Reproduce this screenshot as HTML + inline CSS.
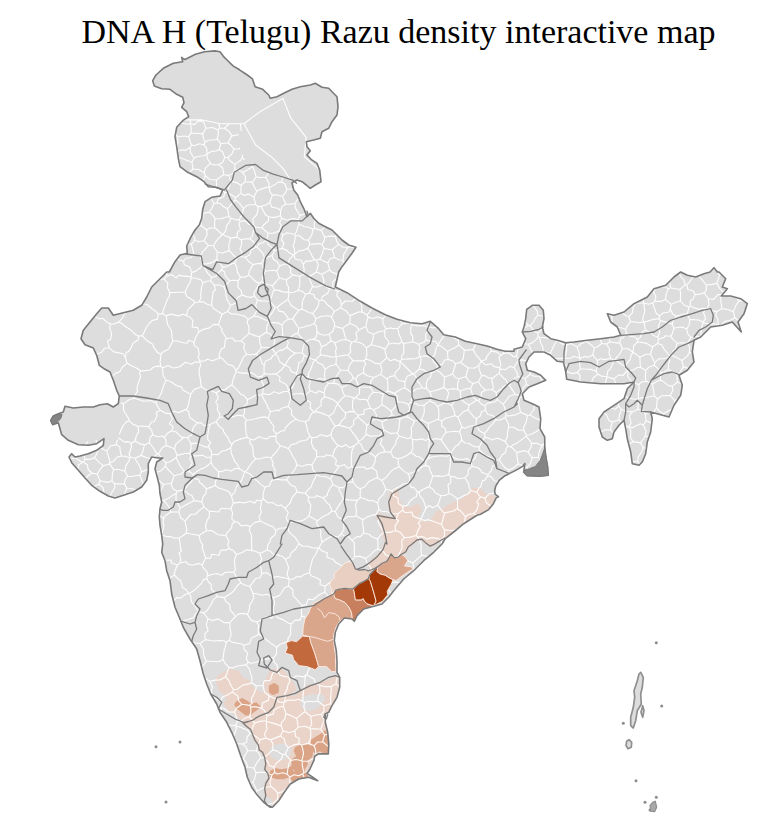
<!DOCTYPE html>
<html><head><meta charset="utf-8"><title>DNA H (Telugu) Razu density interactive map</title>
<style>
html,body{margin:0;padding:0;background:#fff;}
body{width:771px;height:816px;overflow:hidden;position:relative;font-family:"Liberation Serif",serif;}
#title{position:absolute;left:0;top:12px;width:797px;text-align:center;font-size:34px;line-height:40px;color:#000;white-space:nowrap;}
svg{position:absolute;left:0;top:0;}
</style></head><body>
<div id="title">DNA H (Telugu) Razu density interactive map</div>
<svg width="771" height="816" viewBox="0 0 771 816">
<path d="M181.7,57.3 L182.7,61.7 L173.3,63.3 L163.3,68.3 L156.0,75.0 L152.7,80.7 L154.3,86.0 L161.7,88.7 L170.0,89.3 L176.7,94.3 L182.7,97.3 L184.0,102.7 L181.7,107.3 L186.7,111.7 L188.7,116.7 L182.7,120.7 L176.7,127.3 L175.0,136.7 L176.7,146.7 L178.3,158.3 L180.0,166.7 L186.7,171.7 L196.7,176.7 L204.0,181.7 L208.3,186.7 L216.7,187.3 L222.7,190.0 L220.0,196.0 L211.7,197.3 L205.0,201.7 L202.7,209.3 L201.7,218.3 L199.3,225.0 L195.0,230.0 L190.7,237.3 L186.7,246.0 L187.3,253.3 L180.0,255.0 L175.0,261.7 L169.3,272.0 L166.7,272.0 L160.0,278.7 L151.7,287.0 L146.7,297.0 L141.7,305.3 L133.3,310.3 L123.3,312.7 L113.3,315.3 L108.3,308.0 L101.7,308.0 L96.7,313.7 L90.0,322.0 L83.3,330.3 L81.0,338.7 L85.0,344.7 L93.3,348.0 L96.7,355.3 L99.3,365.3 L105.0,369.3 L110.0,372.0 L113.3,380.3 L116.7,390.3 L119.3,396.0 L118.3,403.7 L113.3,407.0 L107.3,403.7 L100.0,404.7 L93.3,407.0 L83.3,407.0 L73.3,408.0 L65.0,406.3 L63.3,412.0 L58.3,413.7 L53.3,416.0 L50.7,420.3 L52.7,424.7 L58.3,422.7 L60.0,428.7 L61.7,434.7 L68.3,440.3 L78.3,444.7 L88.3,445.3 L96.7,443.7 L104.0,438.7 L103.3,445.3 L96.7,450.3 L88.3,453.7 L80.0,456.0 L75.0,457.0 L71.7,453.7 L69.0,457.0 L71.7,462.7 L78.3,470.3 L85.0,478.0 L91.7,485.3 L100.0,491.3 L108.3,496.0 L115.0,498.0 L125.0,494.7 L133.3,492.0 L141.7,487.0 L146.7,480.3 L148.3,472.0 L148.3,463.7 L151.7,457.0 L158.3,458.0 L162.7,458.0 L156.7,462.0 L155.0,468.7 L156.7,475.3 L159.3,485.3 L160.0,493.7 L161.7,502.0 L160.0,508.7 L159.3,517.0 L160.0,525.3 L161.7,535.3 L162.7,544.0 L162.7,544.0 L161.7,552.3 L165.0,560.7 L166.7,570.7 L170.0,580.7 L171.7,594.0 L175.0,607.3 L180.0,619.0 L183.3,627.3 L190.0,639.0 L196.7,649.0 L200.0,660.7 L203.3,674.0 L206.7,684.0 L210.7,694.0 L216.7,704.0 L220.0,712.3 L226.7,722.3 L231.7,732.3 L236.7,744.0 L240.7,755.7 L245.0,767.3 L247.3,777.3 L251.7,787.3 L257.0,794.7 L257.0,794.7 L263.7,802.3 L270.3,807.3 L273.0,806.7 L278.7,800.7 L285.3,790.7 L290.3,784.0 L298.7,779.0 L308.7,777.3 L317.7,780.7 L312.0,776.7 L307.0,773.3 L309.5,770.0 L314.0,760.2 L314.6,756.3 L318.5,753.9 L328.3,753.9 L328.8,744.0 L327.7,732.3 L325.3,722.3 L325.3,714.0 L328.7,712.3 L332.0,705.7 L337.0,697.3 L339.7,687.3 L339.7,677.3 L337.0,672.3 L337.0,660.7 L336.3,650.7 L334.3,640.7 L335.3,632.3 L338.7,624.0 L344.3,618.0 L352.0,619.0 L354.3,621.3 L357.0,615.7 L363.7,609.0 L372.0,606.7 L382.0,604.0 L388.7,597.3 L393.7,590.7 L403.7,579.0 L413.7,570.7 L423.7,560.7 L433.7,552.3 L442.0,544.0 L442.0,544.0 L445.3,538.7 L453.7,532.0 L463.7,523.7 L477.0,515.3 L480.5,514.2 L488.7,509.6 L493.4,503.7 L496.2,497.9 L498.5,496.7 L495.3,494.4 L494.6,490.9 L495.7,486.2 L499.2,480.4 L505.1,475.7 L509.7,473.4 L516.7,469.9 L522.6,466.4 L524.9,463.6 L523.7,472.2 L527.2,475.7 L540.1,476.2 L548.3,475.3 L547.6,466.4 L545.9,457 L544.8,447.7 L544.7,437.0 L540.0,428.7 L540.7,418.7 L539.0,407.0 L532.3,403.7 L524.0,400.3 L522.3,393.7 L529.0,387.0 L537.3,383.7 L545.7,380.3 L540.7,375.3 L534.0,372.0 L527.3,370.3 L525.7,363.7 L529.0,357.0 L534.0,352.0 L544.0,352.0 L550.7,355.3 L557.3,361.3 L563.3,362.0 L564.7,367.0 L565.7,372.0 L566.7,379.3 L580.7,382.0 L600.7,383.7 L624.0,383.7 L634.0,382.0 L627.3,388.7 L624.0,398.7 L614.0,405.3 L604.0,412.0 L599.0,418.7 L599.0,427.0 L602.3,437.0 L607.3,440.3 L612.3,438.7 L614.0,432.0 L619.0,425.3 L624.0,420.3 L625.7,428.7 L627.3,438.7 L630.7,452.0 L632.3,463.7 L639.0,465.3 L642.3,462.0 L645.7,453.7 L647.3,442.0 L650.7,432.0 L652.3,418.7 L650.7,412.0 L660.7,414.7 L669.0,417.0 L674.0,405.3 L680.7,395.3 L682.3,385.3 L679.0,375.3 L687.3,370.3 L694.0,362.0 L692.3,352.0 L694.0,340.3 L700.7,337.0 L710.7,327.0 L722.3,325.3 L732.3,322.0 L741.3,332.0 L738.0,322.0 L744.0,313.7 L747.3,303.7 L740.7,298.7 L730.7,296.0 L721.3,296.0 L727.3,288.7 L722.3,287.0 L725.7,278.7 L719.0,272.0 L717.3,272.0 L714.0,267.7 L710.0,272.0 L704.0,273.7 L695.7,277.0 L687.3,275.3 L680.7,272.0 L674.0,277.0 L665.7,285.3 L654.0,288.7 L647.3,297.0 L634.0,303.7 L624.0,312.0 L614.0,315.3 L607.3,313.7 L610.7,322.0 L617.3,327.0 L620.7,335.3 L614.0,337.0 L600.7,338.7 L587.3,340.3 L574.0,342.0 L565.7,342.7 L557.3,340.3 L550.7,338.7 L544.0,333.7 L542.3,327.0 L544.0,318.7 L543.3,310.3 L539.0,305.3 L532.3,305.3 L526.7,309.3 L525.7,318.7 L524.0,327.0 L522.3,332.0 L525.7,338.7 L522.3,347.0 L514.0,349.3 L514.0,351.3 L505.3,351.3 L497.0,349.3 L487.0,346.0 L477.0,343.7 L465.3,341.3 L455.3,337.0 L443.7,334.7 L438.7,328.7 L430.3,321.3 L422.0,323.7 L410.3,322.7 L397.0,319.3 L385.3,314.7 L372.0,308.0 L360.3,301.3 L347.0,292.7 L335.3,287.0 L338.7,272.0 L338.7,272.0 L342.0,266.7 L347.0,260.0 L352.0,253.3 L356.0,247.3 L348.7,245.0 L342.0,240.0 L337.0,235.0 L332.0,230.0 L325.3,226.7 L318.7,223.3 L313.7,218.3 L310.3,213.3 L307.0,216.7 L303.7,208.3 L300.3,201.7 L297.7,195.0 L293.7,190.0 L292.0,182.7 L297.0,180.0 L302.0,181.7 L306.3,185.0 L310.3,188.3 L315.3,185.0 L321.0,181.7 L319.7,170.0 L317.0,163.3 L311.0,159.3 L307.0,155.0 L310.3,150.7 L307.0,146.7 L306.3,141.7 L313.7,140.0 L320.3,138.3 L322.0,131.7 L328.7,128.3 L332.0,121.7 L337.0,115.0 L338.0,106.7 L337.0,96.7 L332.0,91.7 L328.7,88.3 L322.0,87.3 L315.3,83.3 L310.3,85.0 L300.3,86.7 L292.0,89.3 L283.7,93.3 L277.0,96.7 L270.3,98.3 L268.7,95.0 L262.7,89.3 L255.1,86.7 L252.5,78.9 L247.3,75 L239.5,69.8 L233,65.9 L227.8,60.8 L223.9,56.9 L220,51.7 L214.9,50.9 L204.5,51.7 L195.4,54.3 L185,59.5 L182.4,58.2Z" fill="#dddddd" stroke="none"/>
<path d="M389.6,492.3 L389.5,492.4 L389.4,492.4 L389.3,492.5 L389.2,492.6 L389.2,492.7 L389.1,492.8 L389.1,492.9 L389.0,493.0 L389.0,493.1 L387.8,502.5 L387.8,502.7 L387.8,502.8 L387.8,502.9 L389.0,511.1 L389.0,511.2 L389.1,511.3 L389.1,511.4 L389.2,511.5 L389.2,511.6 L389.3,511.7 L389.4,511.8 L393.5,515.8 L392.9,517.5 L387.1,515.6 L387.0,515.5 L378.8,513.2 L378.7,513.2 L378.6,513.2 L378.5,513.2 L378.4,513.2 L378.2,513.2 L378.1,513.3 L378.0,513.3 L377.9,513.3 L377.8,513.4 L377.7,513.5 L377.6,513.6 L377.6,513.6 L377.5,513.7 L375.2,517.2 L375.1,517.3 L375.1,517.5 L375.0,517.6 L375.0,517.7 L375.0,517.8 L375.0,517.9 L375.0,518.0 L375.0,518.2 L375.1,518.3 L375.1,518.4 L375.2,518.5 L375.2,518.6 L375.3,518.7 L375.4,518.8 L375.5,518.9 L375.6,518.9 L375.7,519.0 L379.7,520.9 L379.7,528.4 L379.7,528.5 L379.7,528.6 L379.8,528.8 L379.8,528.9 L383.2,536.9 L384.3,542.3 L382.1,548.8 L376.5,555.5 L369.6,561.3 L369.5,561.4 L369.5,561.5 L369.4,561.6 L369.3,561.7 L369.3,561.8 L369.2,561.9 L368.0,566.6 L368.0,566.7 L368.0,566.8 L368.0,566.9 L368.0,567.1 L368.0,567.2 L368.1,567.3 L368.1,567.4 L368.2,567.5 L368.2,567.6 L368.3,567.7 L368.4,567.8 L368.4,567.8 L368.5,567.9 L372.0,570.2 L372.2,570.3 L372.3,570.3 L377.0,572.0 L377.1,572.1 L377.2,572.1 L377.3,572.1 L377.4,572.1 L377.6,572.1 L377.7,572.1 L377.8,572.0 L377.9,572.0 L378.0,571.9 L378.1,571.9 L382.6,568.6 L388.4,565.7 L388.5,565.6 L388.6,565.5 L388.7,565.5 L388.8,565.4 L388.9,565.3 L388.9,565.2 L389.0,565.1 L389.0,565.0 L390.6,560.5 L393.4,557.4 L396.6,559.2 L396.7,559.3 L396.8,559.3 L396.9,559.4 L397.0,559.4 L397.2,559.4 L397.3,559.4 L397.4,559.4 L397.5,559.4 L397.6,559.3 L397.7,559.3 L397.8,559.2 L397.9,559.2 L398.0,559.1 L401.9,555.5 L406.4,552.7 L406.5,552.7 L406.6,552.6 L406.7,552.5 L406.8,552.4 L406.8,552.3 L406.9,552.2 L409.1,547.8 L413.1,544.8 L413.2,544.7 L417.5,541.1 L421.3,540.4 L424.4,543.3 L424.5,543.3 L429.2,547.0 L429.3,547.1 L429.3,547.2 L429.5,547.2 L429.6,547.3 L429.7,547.3 L429.8,547.3 L429.9,547.3 L430.0,547.3 L430.1,547.3 L430.2,547.3 L430.3,547.2 L433.8,545.8 L433.9,545.8 L434.0,545.7 L438.7,542.9 L443.3,540.3 L443.4,540.3 L444.9,539.3 L445.3,538.7 L453.7,532.0 L463.7,523.7 L477.0,515.3 L480.5,514.2 L488.7,509.6 L493.4,503.7 L496.2,497.9 L496.3,497.8 L493.7,495.3 L493.7,495.2 L493.6,495.1 L493.5,495.0 L493.4,495.0 L493.3,495.0 L493.2,494.9 L493.1,494.9 L486.4,494.1 L480.9,488.9 L480.8,488.8 L480.7,488.8 L480.6,488.7 L480.5,488.7 L480.4,488.6 L480.3,488.6 L473.7,487.5 L473.6,487.5 L473.5,487.5 L473.4,487.5 L473.2,487.5 L473.1,487.6 L473.0,487.6 L472.9,487.6 L472.8,487.7 L472.7,487.8 L472.7,487.8 L472.6,487.9 L468.7,492.5 L463.0,498.2 L456.2,501.1 L449.3,503.9 L449.2,503.9 L449.1,504.0 L449.0,504.0 L443.3,508.2 L436.4,511.4 L436.3,511.5 L436.2,511.5 L436.1,511.6 L436.0,511.7 L436.0,511.8 L435.9,511.8 L432.4,517.2 L428.3,521.9 L421.2,520.3 L418.4,516.6 L421.6,510.8 L421.6,510.7 L421.6,510.5 L421.7,510.4 L421.7,510.3 L421.7,510.2 L421.7,510.1 L421.7,509.9 L421.6,509.8 L421.6,509.7 L419.3,504.5 L419.2,504.4 L419.2,504.3 L419.1,504.2 L419.0,504.1 L418.9,504.1 L418.8,504.0 L418.7,503.9 L418.6,503.9 L418.5,503.8 L418.4,503.8 L418.3,503.8 L418.2,503.8 L418.1,503.8 L418.0,503.8 L417.8,503.9 L417.7,503.9 L409.8,507.3 L402.7,506.3 L399.6,500.1 L398.4,489.7 L398.4,489.6 L398.3,489.4 L398.3,489.3 L398.3,489.2 L398.2,489.1 L398.1,489.0 L398.0,489.0 L398.0,488.9 L397.9,488.8 L397.8,488.7 L397.7,488.7 L397.6,488.7 L397.4,488.6 L397.3,488.6 L397.2,488.6 L397.1,488.6 L397.0,488.6 L396.9,488.6 L396.8,488.7 L396.7,488.7 L389.7,492.2Z" fill="#ead4c9" fill-rule="evenodd" stroke="none"/>
<path d="M334.3,676.6 L334.2,676.6 L328.9,679.4 L323.7,680.9 L317.3,681.9 L317.2,681.9 L317.1,682.0 L317.0,682.0 L316.9,682.1 L316.8,682.1 L312.9,685.1 L308.0,684.5 L307.8,684.5 L307.7,684.5 L307.6,684.5 L307.5,684.5 L307.4,684.6 L307.2,684.6 L307.1,684.7 L307.0,684.8 L302.8,688.2 L298.9,690.8 L298.8,690.9 L298.7,691.0 L298.6,691.1 L295.3,695.4 L292.2,695.9 L289.3,692.7 L289.2,692.6 L289.1,692.6 L289.1,692.5 L289.0,692.4 L285.8,690.7 L285.7,690.7 L285.5,690.7 L285.4,690.6 L285.3,690.6 L285.2,690.6 L280.9,690.6 L280.8,690.6 L280.7,690.6 L280.6,690.6 L280.5,690.7 L280.4,690.7 L280.3,690.8 L277.0,692.9 L276.9,693.0 L276.8,693.0 L276.7,693.1 L276.6,693.2 L276.6,693.3 L276.5,693.4 L274.4,697.7 L272.2,702.0 L272.2,702.1 L272.1,702.2 L272.1,702.3 L272.1,702.4 L272.1,702.5 L272.1,702.6 L272.1,702.8 L272.2,702.9 L273.3,706.2 L273.3,706.3 L273.4,706.4 L273.4,706.5 L273.5,706.6 L273.6,706.6 L275.7,708.8 L273.8,710.2 L268.6,713.3 L262.3,714.3 L262.2,714.3 L262.1,714.4 L256.8,716.5 L256.7,716.5 L256.6,716.6 L252.3,719.1 L248.2,720.3 L242.8,721.8 L242.7,721.9 L242.6,721.9 L242.5,722.0 L242.4,722.1 L242.3,722.1 L242.2,722.2 L242.1,722.3 L242.1,722.4 L242.0,722.5 L242.0,722.6 L241.9,722.8 L241.9,722.9 L241.9,723.0 L241.9,723.1 L241.9,723.2 L241.9,723.3 L242.0,723.5 L242.0,723.6 L242.1,723.7 L242.2,723.8 L242.3,723.8 L245.6,727.1 L245.7,727.3 L249.7,730.3 L251.7,735.3 L251.7,735.4 L253.9,740.8 L253.9,740.8 L254.0,740.9 L254.0,741.0 L257.1,745.1 L258.1,750.2 L258.2,750.4 L258.2,750.5 L258.2,750.6 L258.3,750.7 L258.4,750.8 L258.4,750.8 L258.5,750.9 L258.6,751.0 L261.5,753.0 L263.5,757.8 L264.6,764.0 L263.5,769.2 L263.5,769.3 L263.5,769.4 L263.5,769.5 L263.5,769.6 L263.5,769.7 L263.6,769.8 L263.6,769.9 L263.7,770.0 L263.7,770.1 L266.8,774.2 L267.7,777.8 L264.8,782.8 L264.7,782.9 L264.7,783.0 L264.6,783.2 L263.5,788.6 L263.5,788.7 L263.5,788.8 L263.5,788.9 L263.5,789.0 L264.6,795.5 L264.6,795.6 L264.7,795.7 L264.7,795.8 L264.8,795.9 L264.8,796.0 L264.9,796.1 L265.0,796.2 L265.1,796.3 L265.2,796.3 L265.3,796.4 L265.4,796.4 L268.5,797.5 L272.2,799.3 L273.2,804.0 L273.2,806.1 L273.2,806.2 L273.2,806.3 L273.2,806.4 L278.7,800.7 L285.3,790.7 L290.3,784.0 L298.7,779.0 L308.7,777.3 L310.1,777.8 L310.1,777.8 L310.0,777.6 L310.0,777.5 L310.0,777.4 L309.9,777.3 L309.8,777.2 L309.7,777.2 L308.4,775.8 L309.1,774.8 L307.0,773.3 L309.5,770.0 L314.0,760.2 L314.6,756.3 L318.5,753.9 L328.3,753.9 L328.8,744.0 L327.7,732.3 L325.3,722.3 L325.3,714.0 L328.7,712.3 L332.0,705.7 L337.0,697.3 L339.7,687.3 L339.7,677.3 L338.3,674.7Z" fill="#ead4c9" fill-rule="evenodd" stroke="none"/>
<path d="M215.4,677.9 L215.3,678.0 L215.2,678.1 L215.1,678.2 L215.1,678.3 L215.1,678.5 L215.0,678.6 L215.0,678.7 L215.0,678.8 L215.0,678.9 L215.0,679.1 L215.1,679.2 L217.2,685.7 L217.2,685.8 L219.4,691.2 L219.4,691.3 L219.5,691.3 L219.6,691.4 L219.6,691.5 L219.7,691.6 L219.8,691.7 L223.9,694.7 L226.6,699.2 L223.8,702.9 L223.8,703.0 L223.7,703.1 L223.7,703.2 L223.6,703.3 L223.6,703.4 L223.6,703.5 L223.6,703.7 L223.6,703.8 L223.6,703.9 L223.7,704.0 L223.7,704.1 L223.8,704.2 L227.0,709.6 L227.0,709.7 L227.1,709.8 L227.2,709.9 L227.3,709.9 L227.3,710.0 L233.8,714.3 L239.0,718.4 L242.1,723.6 L242.1,723.7 L242.2,723.8 L242.3,723.9 L242.4,724.0 L242.5,724.0 L242.6,724.1 L242.7,724.1 L242.8,724.2 L242.9,724.2 L243.1,724.2 L243.2,724.2 L243.3,724.2 L243.4,724.2 L248.8,722.7 L248.8,722.6 L253.1,721.3 L253.3,721.3 L253.4,721.2 L257.7,718.7 L262.8,716.7 L269.2,715.6 L269.3,715.6 L269.4,715.5 L269.5,715.5 L269.6,715.4 L275.0,712.2 L275.1,712.2 L275.2,712.1 L275.3,712.0 L275.3,711.9 L275.4,711.8 L275.5,711.7 L275.5,711.6 L275.6,711.5 L275.6,711.4 L275.6,711.3 L275.6,711.2 L275.6,706.9 L275.6,706.8 L275.6,706.7 L275.5,706.5 L275.5,706.4 L275.5,706.3 L275.4,706.2 L275.3,706.1 L275.2,706.0 L275.1,706.0 L275.1,705.9 L274.9,705.8 L270.7,703.6 L265.7,700.7 L263.6,694.6 L263.6,694.5 L263.5,694.4 L263.5,694.3 L263.4,694.2 L263.3,694.1 L263.3,694.1 L263.2,694.0 L256.8,689.7 L251.7,685.7 L249.6,680.5 L249.6,680.4 L249.5,680.3 L249.4,680.3 L249.4,680.2 L249.3,680.1 L249.2,680.0 L249.1,680.0 L249.0,679.9 L248.9,679.9 L242.9,677.8 L239.9,671.9 L239.8,671.8 L239.7,671.7 L239.7,671.6 L239.6,671.5 L239.5,671.4 L239.4,671.4 L239.3,671.3 L239.2,671.3 L239.1,671.2 L230.5,669.0 L230.4,669.0 L230.3,669.0 L230.1,669.0 L230.0,669.0 L229.9,669.0 L229.8,669.1 L229.7,669.1 L221.1,673.4 L221.0,673.5 L220.9,673.6 L215.5,677.9Z" fill="#ead4c9" fill-rule="evenodd" stroke="none"/>
<path d="M269.4,671.4 L269.3,671.5 L269.2,671.6 L269.1,671.7 L269.0,671.8 L269.0,671.9 L266.8,677.2 L263.7,682.5 L263.6,682.6 L263.6,682.7 L263.5,682.8 L263.5,683.0 L263.5,683.1 L263.5,683.2 L263.5,683.3 L263.5,683.4 L263.6,683.6 L265.5,688.3 L262.6,692.1 L262.6,692.2 L262.5,692.3 L262.5,692.4 L262.4,692.5 L262.4,692.6 L262.4,692.7 L262.4,692.8 L262.4,692.9 L262.4,693.0 L262.5,693.1 L262.5,693.3 L264.7,698.7 L264.7,698.7 L264.8,698.8 L264.8,698.9 L268.0,703.2 L268.1,703.3 L268.2,703.4 L268.3,703.5 L268.4,703.5 L268.5,703.6 L268.6,703.6 L268.8,703.7 L268.9,703.7 L269.0,703.7 L273.3,703.7 L273.4,703.7 L273.5,703.7 L273.7,703.6 L273.8,703.6 L273.9,703.6 L274.0,703.5 L274.1,703.4 L274.2,703.3 L274.2,703.2 L274.3,703.1 L274.4,703.0 L274.4,702.9 L274.5,702.8 L274.5,702.7 L275.5,697.1 L279.0,696.2 L279.1,696.1 L279.2,696.1 L279.3,696.0 L279.4,695.9 L279.5,695.9 L282.5,693.0 L286.2,693.0 L290.3,694.0 L290.4,694.0 L290.6,694.0 L290.7,694.0 L290.8,694.0 L290.9,694.0 L291.0,693.9 L291.1,693.9 L291.2,693.8 L291.3,693.8 L295.6,690.6 L295.7,690.5 L295.8,690.4 L295.9,690.3 L295.9,690.2 L296.0,690.1 L296.0,690.0 L296.1,689.9 L296.1,689.8 L296.1,689.7 L296.1,689.6 L296.1,689.4 L296.1,689.3 L296.0,689.2 L293.8,682.7 L293.8,682.6 L293.7,682.5 L293.7,682.4 L293.6,682.3 L293.5,682.3 L290.5,679.2 L287.3,673.9 L287.3,673.8 L287.2,673.7 L287.1,673.7 L282.8,669.4 L282.8,669.3 L282.7,669.2 L282.6,669.1 L282.4,669.1 L282.3,669.0 L282.2,669.0 L275.7,667.9 L275.6,667.9 L275.5,667.9 L275.3,667.9 L275.2,667.9 L275.1,668.0 L275.0,668.0 L274.9,668.1 L269.5,671.4Z" fill="#ead4c9" fill-rule="evenodd" stroke="none"/>
<path d="M300.3,704.7 L303.5,710.1 L310.0,711.2 L316.5,709.0 L320.8,704.7 L325.1,700.4 L324.0,695.0 L316.5,693.9 L307.8,695.0 L301.4,697.2Z" fill="#dddddd" fill-rule="evenodd" stroke="none"/>
<path d="M269.0,753.2 L272.3,758.6 L278.7,760.8 L285.2,759.7 L289.5,756.5 L291.7,750.0 L288.4,745.7 L283.0,743.5 L275.5,744.6 L270.1,747.8Z" fill="#dddddd" fill-rule="evenodd" stroke="none"/>
<path d="M295.5,746.7 L295.4,746.8 L295.3,746.9 L295.2,746.9 L295.1,747.0 L295.0,747.1 L295.0,747.2 L294.9,747.3 L294.9,747.4 L293.8,750.7 L293.7,750.8 L293.7,751.0 L293.7,751.1 L293.7,751.2 L293.7,751.3 L293.7,751.4 L293.8,751.5 L293.8,751.6 L296.0,755.9 L296.1,756.0 L296.1,756.1 L299.3,760.4 L299.4,760.5 L299.5,760.6 L299.6,760.7 L299.7,760.7 L299.8,760.8 L299.9,760.8 L300.0,760.9 L300.1,760.9 L306.6,762.0 L306.7,762.0 L306.8,762.0 L306.9,762.0 L307.1,762.0 L307.2,761.9 L307.3,761.9 L307.4,761.9 L307.5,761.8 L307.6,761.7 L307.6,761.6 L311.9,757.3 L312.0,757.3 L312.1,757.2 L312.2,757.1 L312.2,756.9 L312.3,756.8 L312.3,756.7 L313.4,750.2 L313.4,750.1 L313.4,750.0 L313.4,749.8 L313.4,749.7 L313.3,749.6 L313.3,749.5 L313.2,749.4 L313.2,749.3 L309.9,745.0 L309.8,744.9 L309.7,744.8 L309.6,744.7 L309.5,744.7 L309.4,744.6 L309.3,744.6 L309.1,744.5 L309.0,744.5 L308.9,744.5 L301.4,744.5 L301.3,744.5 L301.2,744.5 L301.1,744.5 L301.0,744.6 L295.6,746.7Z" fill="#dba486" fill-rule="evenodd" stroke="none"/>
<path d="M311.5,739.3 L311.4,739.4 L311.3,739.5 L311.2,739.6 L311.2,739.7 L311.1,739.8 L311.1,739.9 L311.0,740.1 L311.0,740.2 L311.0,740.3 L311.0,747.8 L311.0,747.9 L311.0,748.0 L311.1,748.2 L311.1,748.3 L311.2,748.4 L311.2,748.5 L314.4,752.9 L314.5,753.0 L314.6,753.1 L314.7,753.2 L314.8,753.2 L314.9,753.3 L315.0,753.3 L315.1,753.4 L315.2,753.4 L315.4,753.4 L315.5,753.4 L315.6,753.4 L315.7,753.4 L315.8,753.3 L315.9,753.3 L319.7,751.3 L323.5,753.3 L323.6,753.3 L323.7,753.4 L323.8,753.4 L326.4,753.9 L328.3,753.9 L328.8,744.0 L328.0,735.7 L326.2,731.2 L326.2,731.1 L326.1,731.0 L326.0,731.0 L326.0,730.9 L325.9,730.8 L325.8,730.7 L325.7,730.7 L325.6,730.6 L325.5,730.6 L325.4,730.5 L325.3,730.5 L325.1,730.5 L325.0,730.5 L324.9,730.5 L324.8,730.5 L324.7,730.6 L324.6,730.6 L324.5,730.7 L324.4,730.7 L320.1,733.9 L316.9,736.1 L311.6,739.3Z" fill="#dba486" fill-rule="evenodd" stroke="none"/>
<path d="M292.0,758.7 L291.9,758.8 L291.8,758.9 L291.8,759.0 L291.7,759.1 L291.6,759.2 L291.6,759.3 L291.5,759.4 L291.5,759.5 L291.5,759.6 L291.5,759.7 L291.5,766.2 L291.5,766.3 L291.5,766.4 L291.5,766.5 L291.6,766.6 L291.6,766.7 L291.7,766.8 L291.7,766.9 L295.0,771.2 L295.1,771.3 L295.2,771.4 L295.3,771.5 L295.4,771.5 L295.5,771.6 L295.6,771.6 L295.7,771.7 L300.0,772.8 L300.1,772.8 L300.2,772.8 L300.3,772.8 L300.5,772.8 L300.6,772.8 L300.7,772.7 L300.8,772.7 L300.9,772.6 L301.0,772.6 L304.2,770.4 L304.3,770.3 L304.4,770.2 L304.5,770.1 L304.5,770.0 L307.8,764.6 L307.9,764.5 L307.9,764.4 L308.0,764.3 L308.0,764.2 L308.0,764.1 L308.0,764.0 L308.0,763.8 L308.0,763.7 L307.9,763.6 L307.9,763.5 L307.8,763.4 L307.8,763.3 L307.7,763.2 L307.6,763.1 L304.3,759.9 L304.2,759.9 L298.8,755.6 L298.7,755.5 L298.6,755.4 L298.5,755.4 L298.4,755.3 L298.3,755.3 L298.2,755.3 L298.1,755.3 L297.9,755.3 L297.8,755.3 L297.7,755.4 L297.6,755.4 L297.5,755.5 L292.1,758.7Z" fill="#dba486" fill-rule="evenodd" stroke="none"/>
<path d="M270.6,770.6 L270.5,770.7 L270.4,770.7 L270.3,770.8 L270.2,770.9 L270.2,771.0 L270.1,771.1 L270.1,771.2 L269.0,774.4 L268.9,774.5 L268.9,774.6 L268.9,774.8 L268.9,774.9 L268.9,775.0 L268.9,775.1 L269.0,775.2 L269.0,775.3 L269.1,775.4 L269.2,775.5 L269.2,775.6 L269.3,775.7 L269.4,775.8 L272.6,778.0 L272.7,778.0 L272.8,778.1 L272.9,778.1 L273.0,778.2 L277.3,779.2 L277.5,779.2 L277.6,779.2 L284.1,779.2 L284.2,779.2 L284.3,779.2 L284.4,779.2 L284.5,779.1 L289.9,777.0 L290.1,777.0 L290.2,776.9 L290.3,776.8 L290.4,776.7 L293.6,773.4 L293.6,773.3 L293.7,773.3 L293.8,773.2 L293.8,773.1 L293.8,772.9 L293.9,772.8 L293.9,772.7 L293.9,772.6 L293.9,772.5 L293.9,772.4 L292.9,767.1 L292.9,767.0 L292.8,766.9 L292.8,766.7 L292.7,766.6 L292.6,766.6 L292.6,766.5 L292.5,766.4 L292.4,766.3 L292.3,766.3 L292.2,766.2 L292.1,766.2 L292.0,766.1 L291.9,766.1 L291.7,766.1 L291.6,766.1 L291.5,766.1 L291.4,766.1 L291.3,766.2 L291.2,766.2 L287.0,768.3 L282.0,769.3 L275.7,768.2 L275.6,768.2 L275.5,768.2 L275.4,768.2 L275.3,768.2 L275.2,768.3 L275.1,768.3 L275.0,768.3 L270.7,770.5Z" fill="#dba486" fill-rule="evenodd" stroke="none"/>
<path d="M291.2,772.6 L291.1,772.7 L291.0,772.7 L290.9,772.8 L290.8,772.9 L290.7,773.0 L290.7,773.1 L290.6,773.2 L290.6,773.3 L290.5,773.4 L289.4,777.7 L289.4,777.8 L289.4,777.9 L289.4,778.1 L289.4,778.2 L289.4,778.3 L289.5,778.4 L289.5,778.5 L289.6,778.6 L289.7,778.7 L289.7,778.8 L292.9,782.1 L293.0,782.2 L293.1,782.3 L293.1,782.3 L298.7,779.0 L307.6,777.5 L308.0,776.2 L308.0,776.1 L308.0,776.0 L308.0,775.8 L308.0,775.7 L308.0,775.6 L307.9,775.5 L307.9,775.4 L307.8,775.3 L304.5,769.9 L304.5,769.8 L304.4,769.7 L304.3,769.6 L304.2,769.5 L304.1,769.5 L304.0,769.4 L303.9,769.4 L303.8,769.3 L303.7,769.3 L303.5,769.3 L303.4,769.3 L303.3,769.3 L296.9,770.4 L296.8,770.4 L296.7,770.5 L291.3,772.6Z" fill="#dba486" fill-rule="evenodd" stroke="none"/>
<path d="M236.0,701.5 L235.9,701.6 L235.8,701.7 L235.7,701.8 L235.7,701.9 L235.6,702.0 L234.5,704.2 L234.5,704.3 L234.4,704.4 L234.4,704.5 L234.4,704.6 L234.4,704.7 L234.4,704.8 L234.4,704.9 L234.5,705.0 L234.5,705.2 L234.5,705.3 L234.6,705.4 L236.7,708.6 L236.8,708.6 L236.8,708.7 L236.9,708.8 L237.0,708.9 L241.4,712.2 L241.4,712.2 L245.7,715.4 L245.8,715.4 L245.9,715.5 L246.0,715.5 L246.1,715.6 L246.2,715.6 L246.3,715.6 L246.5,715.6 L246.6,715.6 L246.7,715.6 L251.0,714.5 L251.1,714.4 L251.2,714.4 L251.3,714.3 L251.4,714.3 L255.7,711.1 L260.0,707.9 L260.1,707.8 L260.2,707.7 L260.3,707.6 L260.3,707.5 L260.4,707.4 L260.4,707.3 L260.5,707.2 L260.5,707.1 L260.5,706.9 L260.5,706.8 L260.5,706.7 L260.5,706.6 L260.4,706.5 L260.4,706.4 L260.3,706.3 L260.2,706.2 L260.2,706.1 L257.0,702.8 L256.9,702.7 L256.8,702.6 L256.7,702.5 L256.6,702.5 L256.5,702.5 L256.3,702.4 L256.2,702.4 L256.1,702.4 L256.0,702.4 L255.9,702.4 L251.0,703.4 L247.1,700.5 L247.0,700.5 L246.9,700.4 L242.6,698.2 L242.5,698.2 L242.4,698.1 L242.3,698.1 L242.2,698.1 L242.1,698.1 L241.9,698.1 L241.8,698.1 L241.7,698.2 L241.6,698.2 L241.5,698.3 L236.1,701.5Z" fill="#dba486" fill-rule="evenodd" stroke="none"/>
<path d="M269.4,685.4 L269.4,685.5 L269.3,685.5 L269.2,685.6 L269.1,685.7 L269.0,685.8 L269.0,685.9 L269.0,686.0 L268.9,686.2 L268.9,686.3 L268.9,686.4 L268.9,691.8 L268.9,691.9 L268.9,692.0 L269.0,692.2 L269.0,692.3 L269.0,692.4 L269.1,692.5 L269.2,692.6 L269.3,692.7 L269.3,692.7 L269.4,692.8 L272.6,694.9 L272.7,695.0 L272.8,695.0 L272.9,695.0 L273.1,695.1 L273.2,695.1 L273.3,695.1 L273.4,695.1 L273.5,695.1 L273.6,695.1 L273.7,695.0 L273.8,695.0 L278.1,692.9 L278.2,692.8 L278.3,692.7 L278.4,692.7 L278.5,692.6 L278.6,692.5 L278.6,692.4 L278.7,692.3 L278.7,692.2 L278.8,692.0 L278.8,691.9 L278.8,691.8 L278.8,686.4 L278.8,686.3 L278.8,686.2 L278.7,686.1 L278.7,685.9 L278.7,685.8 L278.6,685.7 L278.5,685.6 L278.5,685.6 L278.4,685.5 L278.3,685.4 L275.1,683.2 L275.0,683.1 L274.9,683.1 L274.8,683.1 L274.7,683.0 L274.5,683.0 L274.4,683.0 L274.3,683.0 L274.2,683.0 L274.1,683.0 L274.0,683.1 L273.9,683.1 L269.6,685.3Z" fill="#dba486" fill-rule="evenodd" stroke="none"/>
<path d="M267.4,804.6 L264.7,803.0 M257.1,790.9 L256.2,793.5 M257.1,790.9 L254.4,785.3 L252.9,782.3 M249.5,782.2 L252.9,782.3 M400.9,582.3 L396.4,582.4 L391.9,582.4 M391.1,594.1 L388.4,589.1 M336.2,630.0 L335.5,628.6 M354.4,621.0 L354.1,621.1 M338.8,623.9 L337.9,624.1 M125.3,312.2 L122.3,318.2 L119.0,321.9 M94.6,316.4 L99.9,318.9 L102.5,318.3 L107.3,322.4 L110.2,323.8 M119.0,321.9 L114.2,324.0 L110.2,323.8 M87.6,441.8 L85.1,445.1 M365.4,558.4 L370.8,554.6 L374.2,551.1 L377.8,549.0 M365.4,558.4 L367.3,563.6 L370.6,567.1 L370.9,570.0 M377.8,549.0 L383.2,551.3 L385.9,555.2 L390.0,556.1 M376.0,514.8 L378.9,509.0 M376.0,514.8 L378.5,517.2 L378.1,522.1 L380.0,525.9 L384.0,532.2 M378.9,509.0 L381.3,511.3 L387.1,511.8 L391.6,513.3 L393.2,513.9 L398.4,513.5 M398.4,513.5 L395.8,519.2 L398.7,520.4 L395.2,525.6 L395.4,530.5 M384.0,532.2 L390.0,532.4 L395.4,530.5 M245.2,768.3 L247.6,766.7 M247.6,766.7 L246.5,762.9 L243.3,758.6 M241.7,758.5 L243.3,758.6 M266.3,720.8 L266.8,721.5 M266.3,720.8 L259.9,721.4 L254.7,723.0 M254.7,723.0 L252.3,728.1 L251.2,733.4 M251.2,733.4 L255.4,736.3 L260.2,739.6 M266.8,721.5 L266.2,724.6 L267.1,728.7 L264.4,734.2 L266.0,738.1 M260.2,739.6 L266.0,738.1 M291.2,623.9 L290.6,627.8 L290.7,634.3 L288.1,638.4 L287.6,641.2 M291.2,623.9 L295.5,619.9 L300.0,620.1 L301.7,615.8 M301.7,615.8 L305.7,617.7 M287.6,641.2 L288.6,641.7 M337.0,661.0 L335.6,661.0 M328.2,596.2 L324.8,592.0 M325.1,586.2 L324.8,592.0 M325.1,586.2 L330.5,582.0 M353.5,588.3 L353.5,588.8 M301.7,615.8 L301.3,611.6 L302.3,605.4 M302.3,605.4 L306.2,604.9 L308.1,599.1 L313.0,599.8 L318.5,595.3 L320.7,594.1 L324.8,592.0 M348.6,561.8 L352.5,559.3 L354.9,556.8 M354.9,556.8 L359.7,556.1 L365.4,558.4 M342.2,565.8 L339.8,564.7 L335.1,561.9 L333.6,559.6 L326.8,557.2 L327.3,552.7 L322.7,551.3 L318.7,548.0 M318.7,548.0 L318.4,548.1 M325.1,586.2 L320.0,584.7 L320.4,580.1 L315.1,577.2 L311.2,575.7 L309.4,572.7 M318.4,548.1 L317.2,551.0 L315.7,554.5 L312.5,559.0 L311.4,563.6 L310.0,568.9 L309.4,572.7 M543.8,316.3 L537.9,315.2 M537.9,315.2 L537.1,310.7 L532.9,305.3 M529.8,415.0 L527.5,415.4 M529.8,415.0 L534.6,417.7 L540.0,420.2 M540.0,420.2 L540.5,422.2 M527.5,415.4 L526.2,422.0 L523.8,427.0 L523.7,430.1 M523.7,430.1 L526.3,435.3 M540.1,428.9 L535.6,431.9 L530.3,434.8 L526.3,435.3 M674.5,400.4 L677.8,399.6 M674.5,400.4 L674.8,404.1 M77.9,469.8 L78.6,465.0 L82.3,462.3 M82.3,462.3 L77.5,459.6 L75.7,458.1 L70.2,459.0 M70.2,459.0 L70.0,459.1 M69.8,456.0 L70.2,459.0 M109.3,347.7 L113.5,351.8 L115.4,352.1 L123.2,353.7 L125.4,357.5 M109.3,347.7 L104.6,348.2 L101.7,352.2 L96.3,354.4 M111.9,376.8 L112.0,376.8 M112.0,376.8 L115.1,373.6 L120.0,371.5 L121.9,367.8 L122.4,367.2 L127.0,363.1 M127.0,363.1 L125.4,357.5 M119.0,321.9 L121.7,323.4 L123.6,325.2 L130.6,329.8 L133.6,332.6 L136.4,335.3 L138.5,336.1 M110.2,323.8 L109.8,328.2 L111.6,334.2 L110.6,339.5 L107.5,340.9 L109.3,347.7 M138.5,336.1 L138.3,339.8 L132.9,343.3 L131.0,348.1 L128.3,351.9 L126.3,352.1 L125.4,357.5 M112.1,377.3 L112.0,376.8 M121.0,402.9 L123.6,403.6 M134.3,398.3 L129.1,399.8 L123.6,403.6 M134.3,398.3 L134.8,395.5 L137.7,390.9 L136.9,387.9 L138.4,382.9 L140.6,377.0 L139.5,372.7 L140.8,370.7 M140.8,370.7 L135.9,367.8 L131.9,366.0 L127.0,363.1 M142.1,335.6 L138.5,336.1 M142.1,335.6 L147.0,340.7 L148.7,341.7 L152.8,344.3 L153.5,346.8 L157.5,352.6 L161.1,354.1 M160.9,366.4 L160.0,361.3 L160.4,359.4 L161.1,354.1 M160.9,366.4 L157.2,366.1 L152.9,367.5 L150.4,370.0 L142.8,370.9 L140.8,370.7 M142.1,335.6 L144.2,332.4 L146.0,328.0 L149.2,323.5 L151.9,320.6 L157.5,319.1 L158.2,314.0 M142.7,303.7 L147.5,304.7 L151.5,308.3 L156.1,311.8 L158.2,314.0 M503.2,404.1 L504.9,408.3 L505.6,412.3 L506.1,416.0 M503.2,404.1 L506.2,400.5 L509.3,396.2 L515.1,394.2 M520.6,412.4 L516.2,414.6 L511.2,415.6 L506.1,416.0 M520.6,412.4 L519.1,405.8 L518.6,402.5 L519.9,397.1 M515.1,394.2 L518.3,395.2 M519.9,397.1 L518.3,395.2 M465.0,477.8 L458.5,478.7 L453.7,476.6 L450.7,476.7 M465.0,477.8 L468.6,483.6 L469.2,488.0 L471.0,490.5 M450.7,476.7 L450.8,482.4 L448.0,485.0 L448.7,490.7 L448.9,493.4 M471.0,490.5 L467.9,494.0 L462.3,496.4 L457.6,499.0 M448.9,493.4 L452.6,495.1 L457.6,499.0 M520.6,412.4 L527.5,415.4 M523.7,430.1 L518.5,430.3 L513.9,427.2 L508.6,427.2 M506.1,416.0 L505.1,417.6 M508.6,427.2 L508.4,423.7 L505.1,417.6 M427.7,458.9 L431.8,457.0 L438.1,456.0 L441.0,455.7 L447.1,456.2 L450.6,455.2 M427.7,458.9 L429.9,454.3 L428.8,450.7 L429.0,445.4 L429.4,439.7 M429.4,439.7 L436.5,438.6 L441.2,439.6 M441.2,439.6 L442.1,441.4 L446.8,447.8 L448.8,450.6 L450.6,453.5 M450.6,453.5 L450.6,455.2 M432.6,475.9 L430.1,470.7 L429.4,466.9 L425.5,465.4 M432.6,475.9 L434.9,476.1 L438.6,475.9 L442.7,476.5 L448.6,474.5 M448.6,474.5 L449.4,470.7 L450.3,463.2 L450.3,459.0 L450.9,455.7 M426.0,460.9 L425.5,465.4 M426.0,460.9 L427.7,458.9 M450.9,455.7 L450.6,455.2 M265.6,271.2 L273.0,270.2 L276.8,270.9 M265.6,271.2 L262.7,276.8 L261.9,281.9 M272.5,285.8 L276.2,281.5 L279.2,277.8 M272.5,285.8 L267.5,284.5 L261.9,281.9 M279.2,277.8 L276.8,270.9 M411.0,452.2 L416.1,456.2 L419.1,456.8 L424.0,460.3 L426.0,460.9 M411.0,452.2 L412.8,449.3 L412.6,442.8 L412.5,439.3 M429.4,439.7 L428.7,439.0 M428.7,439.0 L425.6,440.5 L421.8,438.9 L416.2,439.9 L412.5,439.3 M446.0,432.3 L445.4,428.5 L441.8,426.3 L441.7,421.0 M446.0,432.3 L450.3,431.8 L454.8,431.2 L459.4,431.9 M441.7,421.0 L445.8,418.3 L451.5,416.8 L455.0,415.6 M461.8,427.2 L459.4,431.9 M461.8,427.2 L460.7,423.7 L457.8,417.1 M457.8,417.1 L455.0,415.6 M441.2,439.6 L443.2,436.0 L446.0,432.3 M461.6,440.0 L458.2,445.1 L456.4,445.3 L453.7,448.7 L450.6,453.5 M461.6,440.0 L461.3,436.4 L459.4,431.9 M428.7,439.0 L428.7,433.8 L428.4,430.1 L428.3,423.5 M441.7,421.0 L438.1,419.3 M438.1,419.3 L434.4,420.8 L428.3,423.5 M414.4,421.0 L421.5,419.7 M414.4,421.0 L412.4,426.1 L411.2,427.3 L411.6,432.2 L410.9,437.5 M412.5,439.3 L410.9,437.5 M428.3,423.5 L421.5,419.7 M354.9,556.8 L354.1,551.2 L354.5,548.5 L354.3,542.9 L351.9,540.4 M377.7,539.1 L378.0,543.7 L377.8,549.0 M377.7,539.1 L371.7,536.8 L369.4,534.5 L363.6,533.0 M351.9,540.4 L357.6,536.3 L360.0,537.1 L363.6,533.0 M376.0,514.8 L373.4,514.8 L366.6,517.3 L362.9,519.8 M377.7,539.1 L379.8,535.9 L384.0,532.2 M363.6,533.0 L363.6,529.6 L362.5,522.6 L362.9,519.8 M377.7,503.1 L378.9,509.0 M377.7,503.1 L372.1,500.2 L369.7,501.0 L363.6,498.5 L360.5,497.5 M357.3,500.4 L360.5,497.5 M357.3,500.4 L355.3,505.1 L356.5,509.6 L356.1,515.8 M356.1,515.8 L362.9,519.8 M318.7,548.0 L322.0,542.3 M351.9,540.4 L348.3,536.3 L344.3,536.1 L341.2,533.6 M322.0,542.3 L326.1,539.3 L328.5,538.0 L332.4,535.8 L338.2,537.0 L341.2,533.6 M356.1,515.8 L353.1,516.8 L347.7,516.6 L343.1,519.9 M341.2,533.6 L343.8,529.9 L343.8,524.3 L343.1,519.9 M385.8,489.2 L391.9,490.8 M385.8,489.2 L384.8,486.2 L381.8,480.4 M408.3,474.1 L403.1,470.4 L399.3,466.7 M408.3,474.1 L409.9,478.3 L408.8,483.1 M391.9,490.8 L396.1,488.3 L401.1,485.6 L402.6,484.2 L408.8,483.1 M381.8,480.4 L385.7,477.8 L389.0,473.9 L391.2,471.1 L394.7,468.6 L399.3,466.7 M411.0,452.2 L408.5,454.4 L402.9,457.6 L398.2,458.7 M425.5,465.4 L421.1,467.1 L418.6,470.6 L413.0,472.2 L408.3,474.1 M399.3,466.7 L398.2,463.3 L398.2,458.7 M357.3,500.4 L352.6,500.1 L348.9,499.9 L343.5,498.9 M343.1,519.9 L338.0,517.0 L335.2,511.5 M343.5,498.9 L341.0,502.4 L338.2,506.6 L335.2,511.5 M322.0,542.3 L320.8,536.5 L320.6,534.0 L321.0,531.0 L316.5,523.3 L317.5,520.8 M317.5,520.8 L322.6,516.9 L325.0,515.5 L328.1,514.3 L332.0,511.0 M335.2,511.5 L332.0,511.0 M395.4,530.5 L400.2,532.4 L404.4,537.7 M394.3,557.8 L398.2,556.0 M404.4,537.7 L401.6,540.7 L402.2,547.5 L401.3,549.4 L398.2,556.0 M414.2,570.2 L412.8,563.0 M398.2,556.0 L399.2,556.5 M407.4,560.4 L412.8,563.0 M428.6,556.6 L421.7,555.3 M412.8,563.0 L418.5,557.9 L421.7,555.3 M418.5,344.3 L412.6,341.7 M418.5,344.3 L423.6,342.5 L426.1,339.7 M426.1,339.7 L425.5,335.2 L426.9,332.8 L427.5,327.0 M427.5,327.0 L422.4,325.4 L417.2,325.9 L412.3,324.7 M412.6,341.7 L412.7,336.0 L410.9,334.1 L410.7,327.3 L412.3,324.7 M412.2,322.9 L411.8,324.2 M400.6,320.2 L402.0,323.9 M402.0,323.9 L407.9,323.0 L411.8,324.2 M428.2,321.9 L427.9,326.7 M427.5,327.0 L427.9,326.7 M412.3,324.7 L411.8,324.2 M370.2,387.2 L366.5,387.3 L359.8,386.7 M370.2,387.2 L370.7,381.7 L373.7,377.5 M359.8,386.7 L357.7,383.7 L355.8,378.8 M355.8,378.8 L358.1,375.4 L363.4,372.8 M363.4,372.8 L367.2,375.7 L373.7,377.5 M353.1,360.7 L359.4,360.9 L364.0,360.6 M353.1,360.7 L347.9,354.8 M347.9,354.8 L350.8,352.1 L350.0,346.5 L351.8,342.3 M366.4,347.8 L362.9,344.2 L360.1,342.8 L354.6,341.5 M366.4,347.8 L366.9,354.2 L365.7,359.1 M351.8,342.3 L354.6,341.5 M365.7,359.1 L364.0,360.6 M355.8,378.8 L353.5,378.2 M348.1,370.5 L351.7,374.8 L353.5,378.2 M348.1,370.5 L349.3,365.3 L353.1,360.7 M363.4,372.8 L363.8,367.0 L365.8,364.5 L364.0,360.6 M371.3,344.7 L366.4,347.8 M371.3,344.7 L373.3,338.0 L373.4,334.2 M373.4,334.2 L367.9,331.8 L365.9,326.6 M359.2,329.8 L365.9,326.6 M359.2,329.8 L355.8,333.2 L357.3,338.6 L354.6,341.5 M380.1,363.9 L382.0,369.8 L380.6,374.4 M380.1,363.9 L375.6,363.4 L370.1,360.2 L365.7,359.1 M373.7,377.5 L380.6,374.4 M199.7,362.1 L194.9,362.0 L191.6,364.3 L185.6,362.2 L181.6,365.3 L179.8,366.8 L173.6,368.0 L171.6,367.3 L168.2,365.5 L162.5,368.0 M199.7,362.1 L200.1,361.4 M200.1,361.4 L198.0,357.0 L199.2,354.6 L198.1,348.1 L194.2,345.4 L194.0,342.2 M162.5,368.0 L160.9,366.4 M161.1,354.1 L162.2,352.6 L168.4,349.2 L171.9,343.1 L172.9,340.7 M194.0,342.2 L188.6,340.3 L187.3,343.1 L183.3,342.7 L176.9,341.0 L172.9,340.7 M158.2,314.0 L162.7,313.6 M162.7,313.6 L166.3,315.9 M166.3,315.9 L166.9,321.4 L167.7,324.5 L170.4,329.0 L171.5,330.9 L172.1,338.4 L172.9,340.7 M305.0,395.6 L306.7,400.1 L310.6,402.4 L310.3,408.6 L314.4,412.0 M305.0,395.6 L301.8,393.5 L295.7,393.8 L290.2,394.7 M290.2,394.7 L290.5,398.8 L288.4,406.4 M314.4,412.0 L311.5,413.6 L308.6,419.9 L305.2,421.8 M305.2,421.8 L299.1,420.8 L296.0,418.9 M296.0,418.9 L291.6,414.8 L291.7,410.4 L288.4,406.4 M286.3,280.0 L279.2,277.8 M286.3,280.0 L287.3,286.0 L288.5,286.4 L288.8,292.4 M272.5,285.8 L274.3,290.1 M274.3,290.1 L277.9,290.1 L283.0,291.9 L288.8,292.4 M280.3,445.8 L277.5,450.3 L276.0,452.1 L271.1,457.7 M280.3,445.8 L276.3,441.5 L275.8,436.1 M271.1,457.7 L266.1,457.0 L259.5,459.0 L255.6,458.6 M255.6,458.6 L253.3,455.5 L252.9,449.2 L252.6,446.9 L249.7,442.6 L250.2,439.2 M250.2,439.2 L253.7,440.0 L259.4,436.5 L261.2,437.8 L266.9,438.9 L270.2,436.5 L275.8,436.1 M280.3,445.8 L283.8,446.8 L288.3,448.6 M288.3,448.6 L291.1,444.6 L296.5,443.5 L297.9,442.1 L301.1,441.0 L306.6,440.0 L310.1,436.3 M305.2,421.8 L306.6,425.5 L307.8,431.4 L310.1,436.3 M296.0,418.9 L293.6,420.8 L290.9,422.2 L285.6,427.3 L284.7,430.6 L281.3,431.0 L276.2,434.0 M275.8,436.1 L276.2,434.0 M242.1,744.0 L236.6,743.7 M242.1,744.0 L246.7,742.3 L247.1,737.0 L250.0,733.7 M233.5,736.5 L236.2,729.5 L235.8,726.1 M250.0,733.7 L247.6,730.0 L242.7,728.2 L241.2,727.4 L235.8,726.1 M247.6,750.8 L245.7,746.3 L242.1,744.0 M247.6,750.8 L246.2,753.5 L243.3,758.6 M251.2,733.4 L250.0,733.7 M247.6,750.8 L252.1,750.7 L256.2,750.7 M260.2,739.6 L258.4,744.5 L256.2,750.7 M267.4,804.6 L273.2,803.2 L277.7,799.1 M278.9,800.4 L277.7,799.1 M257.1,790.9 L262.8,788.1 L265.7,787.2 L270.9,786.5 M270.9,786.5 L274.9,789.7 L277.8,793.2 M277.7,799.1 L277.8,793.2 M277.8,793.2 L282.9,791.5 L287.6,787.6 M291.2,623.9 L288.7,623.2 L283.5,619.9 L278.2,617.9 L274.6,614.8 M274.6,614.8 L271.9,618.1 L266.4,616.5 L261.1,620.1 L256.5,622.0 M287.6,641.2 L284.0,642.9 L279.9,644.2 L276.7,647.5 M276.7,647.5 L272.8,644.4 L271.3,643.9 L265.8,639.2 L260.2,635.2 L258.3,634.4 M258.3,634.4 L258.2,628.5 L258.8,625.3 L256.5,622.0 M288.3,747.7 L285.7,744.7 L284.1,738.6 L280.5,735.9 M288.3,747.7 L294.5,744.6 L298.8,743.9 M298.8,743.9 L299.4,738.2 L295.7,736.8 L294.8,730.9 M280.5,735.9 L283.0,730.9 M294.8,730.9 L289.2,732.8 L283.0,730.9 M266.3,720.8 L267.0,715.6 M267.0,715.6 L273.1,714.1 L274.2,709.7 L279.1,707.0 L283.4,706.2 M266.8,721.5 L273.0,723.1 L278.0,724.9 L281.1,725.9 M283.4,706.2 L286.0,713.6 M286.0,713.6 L284.8,718.8 L281.5,722.7 L281.1,725.9 M266.0,738.1 L270.6,739.9 M270.6,739.9 L276.2,737.6 L280.5,735.9 M281.1,725.9 L283.0,730.9 M267.0,715.6 L265.2,711.5 L261.8,708.1 M261.8,708.1 L262.6,702.7 L268.4,700.4 L269.1,695.8 M283.4,706.2 L283.9,702.4 M269.1,695.8 L274.4,698.5 L275.9,698.6 L278.9,702.2 L283.9,702.4 M318.4,548.1 L312.7,547.9 L308.0,546.2 L302.2,546.3 L299.1,543.5 M317.5,520.8 L313.1,518.6 L308.9,515.8 M289.2,523.8 L293.3,521.1 L299.0,521.3 L302.7,520.4 L306.8,518.1 L308.9,515.8 M289.2,523.8 L287.9,526.8 M299.1,543.5 L296.1,538.7 L295.5,537.6 L291.2,534.1 L288.8,531.4 L287.9,526.8 M487.7,474.8 L491.4,470.4 L492.6,466.2 L494.5,465.1 L495.3,460.4 M487.7,474.8 L481.8,472.3 L480.5,469.8 L477.9,467.8 L472.0,466.4 M495.3,460.4 L490.4,457.4 L486.5,455.9 L482.7,452.9 L479.3,449.7 M479.3,449.7 L477.1,452.5 L474.8,458.9 L471.3,461.1 M472.0,466.4 L471.3,461.1 M477.0,492.5 L478.7,488.1 L480.4,487.3 L482.5,480.5 L484.6,480.4 L487.9,475.6 M477.0,492.5 L471.0,490.5 M487.9,475.6 L487.7,474.8 M465.0,477.8 L468.0,474.6 L468.2,469.7 L472.0,466.4 M461.6,440.0 L464.9,443.0 L468.5,443.3 L474.3,446.7 L479.2,446.9 M479.2,446.9 L479.3,449.7 M450.9,455.7 L455.5,458.6 L458.4,459.2 L463.5,459.3 L466.7,458.6 L471.3,461.1 M448.6,474.5 L450.7,476.7 M485.0,437.1 L488.9,438.2 L492.2,440.0 L496.8,438.2 L499.8,438.9 L505.1,441.6 M485.0,437.1 L481.4,443.0 L479.2,446.9 M505.1,441.6 L508.3,446.3 M495.3,460.4 L499.2,459.7 M499.2,459.7 L502.3,454.7 L505.6,452.6 L506.3,448.2 L508.3,446.3 M526.3,435.3 L526.1,436.4 M505.1,441.6 L507.2,437.1 L507.5,432.9 L508.6,427.2 M508.3,446.3 L510.8,446.8 M526.1,436.4 L521.7,439.6 L516.7,443.4 L513.2,444.8 L510.8,446.8 M485.0,498.0 L480.4,496.9 M485.0,498.0 L486.5,503.1 L491.4,506.2 M480.4,496.9 L476.8,502.0 L478.7,504.0 L476.9,509.9 L473.8,513.6 M473.8,513.6 L476.9,515.3 M477.0,492.5 L480.4,496.9 M487.9,475.6 L491.2,476.8 L494.4,481.0 L498.6,481.4 M495.0,493.0 L489.4,493.8 L485.0,498.0 M457.6,508.5 L462.3,512.6 L465.5,517.0 M457.6,508.5 L457.5,502.9 L457.6,499.0 M465.5,517.0 L468.7,514.2 L473.8,513.6 M586.4,341.2 L592.1,345.7 L594.4,347.8 M586.4,341.2 L581.2,343.8 L577.2,347.1 M580.4,358.5 L584.3,356.4 L587.7,357.3 L592.8,354.9 M580.4,358.5 L579.7,358.0 M579.7,358.0 L578.9,352.4 L577.2,347.1 M594.4,347.8 L592.8,354.9 M215.2,485.5 L212.0,486.9 L206.4,488.9 M215.2,485.5 L219.2,488.2 L224.6,489.7 L229.2,491.9 L231.4,495.9 M206.4,488.9 L206.0,493.5 L203.4,496.2 L201.8,501.7 M209.4,511.6 L211.8,511.3 L218.3,512.0 L221.3,508.2 L225.4,508.7 L230.8,508.8 M209.4,511.6 L204.0,506.9 M230.8,508.8 L233.3,503.1 M204.0,506.9 L201.8,501.7 M231.4,495.9 L233.3,503.1 M215.2,485.5 L215.4,481.0 L218.6,478.0 L218.5,471.5 M239.7,469.0 L235.4,468.2 L231.3,470.9 L225.8,469.7 L222.2,471.6 L218.5,471.5 M239.7,469.0 L244.4,471.8 M231.4,495.9 L234.6,492.3 L236.7,486.6 L237.4,485.1 L241.2,481.0 L243.2,476.3 L244.4,471.8 M260.4,521.1 L254.9,522.4 L250.2,526.6 M260.4,521.1 L259.1,517.1 L261.5,512.1 L260.4,508.3 L261.0,505.2 L261.4,500.7 M250.2,526.6 L246.8,525.3 L241.3,525.9 L237.6,522.0 L234.7,521.7 M234.7,521.7 L231.8,518.8 L232.6,512.5 L230.8,508.8 M233.3,503.1 L238.4,502.4 L239.9,502.2 L244.5,502.9 L250.3,501.2 L254.7,503.1 L256.9,500.2 L261.4,500.7 M537.9,315.2 L534.8,318.8 L533.7,321.8 L530.0,325.7 M530.0,325.7 L533.9,331.0 L537.8,333.0 M542.8,328.9 L537.8,333.0 M484.5,433.6 L488.1,429.2 L489.5,426.9 L491.5,425.1 L495.8,419.6 M484.5,433.6 L480.0,431.2 L476.0,425.5 M476.0,425.5 L476.4,418.7 M476.4,418.7 L480.7,415.5 L481.2,411.8 L485.5,410.3 M485.5,410.3 L488.0,414.5 L493.1,415.5 L495.8,419.6 M485.0,437.1 L484.5,433.6 M505.1,417.6 L500.5,420.0 L495.8,419.6 M461.8,427.2 L465.2,428.2 L470.2,426.0 L476.0,425.5 M468.2,409.6 L463.4,411.7 L460.2,415.1 L457.8,417.1 M468.2,409.6 L469.9,412.2 L473.6,416.6 L476.4,418.7 M503.2,404.1 L497.4,399.6 M497.4,399.6 L494.9,401.8 L487.2,403.4 L485.1,406.1 M485.1,406.1 L485.5,410.3 M222.5,266.6 L225.3,267.1 L230.4,264.4 L234.6,262.8 M222.5,266.6 L219.3,262.3 L216.8,259.2 M216.8,259.2 L217.3,252.0 M217.3,252.0 L222.2,253.0 L229.2,250.6 M234.6,262.8 L237.2,258.1 M237.2,258.1 L233.7,255.5 L229.2,250.6 M235.3,200.0 L231.9,203.7 L227.5,208.7 M235.3,200.0 L239.9,203.6 L243.3,208.8 M227.5,208.7 L229.0,216.5 M243.3,208.8 L242.1,214.7 L239.1,219.8 M239.1,219.8 L236.3,219.8 L230.9,218.3 M229.0,216.5 L230.9,218.3 M240.5,277.1 L238.2,280.6 M240.5,277.1 L237.4,272.4 L236.8,267.3 L234.6,262.8 M221.5,269.9 L224.5,271.7 L225.3,276.0 L229.7,280.9 M221.5,269.9 L222.5,266.6 M238.2,280.6 L232.6,280.3 L229.7,280.9 M279.6,266.2 L276.8,270.9 M279.6,266.2 L283.1,264.2 L287.6,264.0 M286.3,280.0 L289.2,277.8 L292.6,274.9 M292.6,274.9 L290.3,272.4 L291.1,269.1 L287.6,264.0 M468.2,409.6 L469.1,405.0 M485.1,406.1 L480.4,403.4 L478.5,400.4 M478.5,400.4 L477.0,400.3 M477.0,400.3 L473.8,401.9 L469.1,405.0 M438.1,344.9 L441.4,346.4 L447.5,351.4 M438.1,344.9 L438.1,344.8 M458.1,340.2 L451.4,336.2 M458.1,340.2 L458.9,345.0 M438.1,344.8 L441.0,340.1 L444.7,334.9 M447.5,351.4 L452.3,348.8 L453.4,348.7 L458.9,345.0 M447.5,351.4 L448.0,359.4 M448.0,359.4 L452.4,360.7 L455.7,363.8 M458.9,345.0 L464.3,350.0 M464.3,350.0 L464.0,353.1 L463.2,358.6 L460.4,362.3 M455.7,363.8 L460.4,362.3 M423.9,405.2 L424.3,409.4 L424.2,412.9 L421.5,419.7 M423.9,405.2 L429.9,400.9 M438.1,419.3 L438.9,416.4 L438.7,408.9 L437.6,406.6 M429.9,400.9 L435.1,403.6 L437.6,406.6 M438.1,344.8 L435.2,341.2 L430.4,341.2 L426.1,339.7 M427.9,326.7 L432.6,327.9 L437.2,327.4 M141.2,455.4 L146.2,457.5 L150.6,458.7 M141.2,455.4 L143.3,449.7 L144.4,444.9 M144.4,444.9 L149.3,442.7 M149.3,442.7 L153.1,447.5 L155.6,452.0 L157.7,454.1 M150.6,458.7 L150.9,458.5 M152.9,457.2 L157.7,454.1 M134.7,458.3 L141.2,455.4 M134.7,458.3 L138.7,464.5 L140.7,468.8 L141.4,471.9 M148.3,469.2 L141.4,471.9 M150.5,459.3 L150.6,458.7 M134.7,458.3 L130.9,457.3 M130.9,457.3 L129.0,454.5 L131.6,446.5 L130.8,443.6 M130.8,443.6 L135.1,441.0 M135.1,441.0 L139.4,443.6 L144.4,444.9 M152.6,434.6 L150.0,437.8 L149.3,442.7 M152.6,434.6 L151.8,430.6 L148.7,426.7 M137.9,426.3 L142.7,426.1 L148.7,426.7 M137.9,426.3 L138.6,431.9 L136.3,435.8 L135.1,441.0 M164.4,437.4 L165.8,440.0 L166.1,445.4 M164.4,437.4 L162.2,436.0 L156.7,436.7 L152.6,434.6 M157.7,454.1 L158.4,454.1 M166.1,445.4 L162.1,447.8 L158.4,454.1 M129.4,420.8 L128.3,417.9 L124.9,412.8 L123.4,409.6 L123.6,403.6 M129.4,420.8 L126.0,422.1 L122.8,426.0 L120.7,431.0 L119.5,433.9 M129.4,420.8 L132.7,424.1 L137.9,426.3 M130.8,443.6 L128.4,441.6 L124.5,441.9 L118.5,438.0 M225.9,535.7 L221.5,535.1 L218.1,534.7 L211.5,530.5 L206.6,530.8 M225.9,535.7 L229.0,541.3 L227.7,544.7 L229.4,548.7 M229.4,548.7 L225.2,550.1 L220.8,550.1 L219.1,555.2 L211.9,554.2 L210.5,558.2 L205.5,557.9 M205.5,557.9 L203.9,552.6 L202.0,547.3 L203.0,545.9 L200.2,540.8 L199.3,535.5 M199.3,535.5 L202.0,533.5 L206.6,530.8 M209.4,511.6 L209.2,517.4 L207.0,520.3 L205.5,526.0 L206.6,530.8 M234.7,521.7 L232.2,523.8 L231.6,527.6 L226.9,532.8 L225.9,535.7 M250.2,526.6 L249.2,530.6 L251.4,534.7 L251.6,539.1 L251.7,546.9 L251.5,550.4 M251.5,550.4 L246.2,549.8 L242.3,552.5 L236.6,554.3 M236.6,554.3 L233.2,550.6 L229.4,548.7 M202.0,668.6 L202.9,666.1 L206.2,661.1 M206.2,661.1 L203.9,655.9 L203.6,652.7 L203.4,649.4 L200.1,643.5 M192.5,642.8 L200.1,643.5 M206.2,661.1 L209.1,661.2 L215.5,661.5 L218.3,661.7 L223.0,659.5 M223.0,659.5 L223.4,655.5 L224.3,649.3 L225.0,648.3 L226.3,642.3 M226.3,642.3 L223.9,640.8 L218.8,640.5 L214.7,641.0 L210.6,640.5 L205.2,639.6 M200.1,643.5 L205.2,639.6 M254.7,723.0 L249.4,717.0 M261.8,708.1 L255.7,706.9 L250.6,706.7 M250.6,706.7 L250.9,711.8 L249.4,717.0 M228.9,667.4 L227.0,673.1 L225.6,676.8 M228.9,667.4 L225.2,663.5 L223.0,659.5 M204.6,677.8 L210.0,681.4 M225.6,676.8 L220.9,679.6 L219.5,679.9 L214.7,680.1 L210.0,681.4 M288.3,448.6 L290.0,450.7 L292.8,456.3 L295.3,460.2 L297.0,464.7 M316.6,456.9 L316.6,451.0 L313.5,448.5 L311.4,443.1 L311.9,437.5 M316.6,456.9 L314.5,460.8 L312.0,464.8 M310.1,436.3 L311.9,437.5 M312.0,464.8 L306.9,464.5 L302.3,466.5 L297.0,464.7 M410.9,437.5 L407.8,438.7 L404.3,437.5 L399.0,436.0 M398.2,458.7 L393.1,457.0 L390.6,452.1 M399.0,436.0 L396.2,440.6 L395.9,443.6 L392.4,448.5 L390.6,452.1 M414.4,421.0 L407.8,417.1 M407.8,417.1 L403.7,417.1 L399.9,419.4 M399.9,419.4 L399.5,423.5 L398.6,430.2 L397.0,432.8 M399.0,436.0 L397.0,432.8 M377.5,477.9 L376.7,471.2 L372.1,467.6 M377.5,477.9 L375.2,478.4 L369.0,481.5 L367.9,482.7 L364.9,486.5 L360.4,488.9 M372.1,467.6 L366.0,469.2 L364.9,467.1 L359.0,467.0 L353.7,468.3 M353.7,468.3 L352.6,474.2 L352.4,477.4 L353.0,482.0 M360.4,488.9 L356.9,487.0 L353.0,482.0 M381.8,480.4 L377.5,477.9 M375.5,457.0 L378.8,453.5 L384.7,451.6 M375.5,457.0 L374.9,462.5 L372.1,467.6 M390.6,452.1 L384.7,451.6 M377.7,503.1 L378.7,499.0 L381.4,496.4 L384.0,493.3 L385.8,489.2 M360.5,497.5 L360.1,494.6 L360.4,488.9 M343.5,498.9 L341.4,494.3 L339.0,489.9 L339.0,487.6 M339.0,487.6 L343.3,487.6 L348.4,482.1 L353.0,482.0 M332.7,456.1 L334.4,450.1 L338.1,445.4 M332.7,456.1 L336.5,460.2 L335.4,464.8 L339.0,466.4 M351.8,466.5 L347.7,468.3 L344.6,464.5 L339.0,466.4 M351.8,466.5 L351.4,463.3 L351.2,456.4 L351.8,452.3 L352.0,450.6 L354.2,445.7 M338.1,445.4 L342.0,446.9 L345.6,444.5 L349.5,447.6 L354.2,445.7 M332.7,456.1 L326.7,454.7 L324.3,456.8 L320.3,456.7 L316.6,456.9 M311.9,437.5 L316.0,437.5 L320.6,434.8 L327.5,436.4 L331.0,434.1 M338.1,445.4 L335.9,443.3 L331.4,436.9 L331.0,434.1 M375.5,457.0 L372.1,454.4 L369.7,452.9 L364.0,450.4 L360.6,443.8 L358.0,442.8 M351.8,466.5 L353.7,468.3 M354.2,445.7 L358.0,442.8 M355.5,397.4 L359.4,399.6 L365.2,399.3 L367.5,400.8 M355.5,397.4 L354.4,398.1 M354.4,398.1 L352.7,400.9 L352.4,408.3 L354.4,411.9 M370.4,408.2 L367.5,400.8 M370.4,408.2 L364.3,409.5 L363.6,414.3 L357.9,415.1 M357.9,415.1 L354.4,411.9 M370.2,387.2 L373.5,392.3 M359.8,386.7 L359.3,393.9 L355.5,397.4 M373.5,392.3 L370.3,394.9 L367.5,400.8 M344.7,395.8 L349.5,396.5 L354.4,398.1 M344.7,395.8 L342.9,392.2 L341.6,387.4 M341.6,387.4 L346.2,385.8 L349.2,382.2 L353.5,378.2 M418.5,344.3 L420.1,347.3 L418.8,352.3 L420.0,356.4 M420.0,356.4 L415.9,358.6 L410.4,358.9 L408.1,358.8 L401.7,359.5 M412.6,341.7 L407.1,343.0 L403.7,343.4 M403.7,343.4 L403.6,345.4 L403.9,352.9 L401.7,356.2 L401.7,359.5 M371.3,344.7 L376.1,346.0 L378.7,346.5 L385.1,349.1 M380.1,363.9 L382.1,362.2 L386.7,357.6 M385.1,349.1 L385.2,352.2 L386.7,357.6 M394.6,375.6 L389.9,376.6 L387.0,379.0 M394.6,375.6 L395.5,372.1 L399.8,367.7 L400.0,361.6 M387.0,379.0 L380.6,374.4 M386.7,357.6 L390.3,360.7 L394.7,359.4 L400.0,361.6 M413.0,373.9 L410.6,372.0 L408.3,369.5 L401.8,363.1 L400.0,361.6 M413.0,373.9 L407.1,376.2 L404.9,381.6 M404.9,381.6 L398.4,380.5 L394.6,375.6 M400.0,361.6 L400.0,361.6 M194.0,342.2 L196.0,336.5 L198.8,332.2 M166.3,315.9 L171.1,314.1 L173.1,314.6 L178.4,315.9 L183.3,314.2 L186.4,315.4 M198.8,332.2 L197.5,327.4 L192.2,327.1 L192.9,320.6 L190.3,317.5 L186.4,315.4 M200.1,361.4 L204.7,360.8 L207.5,359.3 L212.5,360.8 L217.8,358.7 L219.8,357.6 M219.8,357.6 L219.1,354.3 L221.4,349.0 L224.5,347.4 L225.1,340.6 L226.6,338.8 M226.6,338.8 L223.3,333.2 L221.9,331.8 L222.0,329.0 L218.5,324.6 M198.8,332.2 L201.8,330.0 L206.2,328.6 L209.6,327.9 L213.5,324.4 L218.5,324.6 M324.0,392.9 L318.2,390.7 L316.6,393.2 L310.0,390.8 M324.0,392.9 L325.5,387.4 L328.5,383.5 M309.6,378.1 L315.7,380.4 L319.3,378.6 L324.9,379.2 M309.6,378.1 L310.1,383.1 L308.8,386.8 L310.0,390.8 M324.9,379.2 L328.5,383.5 M341.6,387.4 L338.5,384.4 L334.0,383.1 M348.1,370.5 L340.6,370.0 M340.6,370.0 L338.8,372.8 L334.2,379.7 L334.0,383.1 M358.1,416.5 L353.6,420.7 L353.7,424.6 L349.8,428.2 M358.1,416.5 L357.9,415.1 M349.8,428.2 L345.1,426.9 L338.8,425.1 M354.4,411.9 L350.1,411.4 L345.6,413.0 M345.6,413.0 L345.1,417.9 L342.6,419.7 L338.8,425.1 M331.0,434.1 L332.6,429.5 L335.1,426.1 M349.8,428.2 L352.4,432.5 L355.6,436.1 L358.4,441.2 M358.0,442.8 L358.4,441.2 M338.8,425.1 L335.1,426.1 M288.8,292.4 L289.1,292.8 M299.8,276.2 L292.6,274.9 M299.8,276.2 L299.8,283.0 L299.5,286.0 L298.1,290.5 M289.1,292.8 L293.8,292.2 L298.1,290.5 M199.7,362.1 L200.8,364.9 L199.2,369.0 L199.1,373.1 L200.4,379.7 L200.8,384.0 L201.6,386.7 M162.5,368.0 L163.0,373.2 L162.9,375.3 L166.1,380.3 M201.6,386.7 L199.0,387.7 L194.4,389.4 L191.1,393.5 M191.1,393.5 L188.8,393.2 L183.3,390.2 L181.2,386.9 L176.3,385.5 L171.6,382.3 L170.0,381.3 L166.1,380.3 M134.3,398.3 L138.1,399.5 L143.9,401.2 L148.9,400.7 L150.8,400.5 L155.9,403.0 M166.1,380.3 L163.8,385.2 L163.4,386.2 L161.4,393.0 L158.9,397.3 L158.1,398.6 L155.9,403.0 M148.7,426.7 L151.3,422.0 L154.0,421.8 L157.2,415.8 L156.2,412.5 L160.3,410.3 M155.9,403.0 L157.6,406.4 L160.3,410.3 M255.6,458.6 L252.4,462.3 L251.5,463.3 L247.1,469.9 L245.3,471.7 M239.7,469.0 L236.7,463.2 L235.2,462.2 L232.9,457.0 L231.5,453.6 L230.6,447.7 M230.6,447.7 L232.2,444.1 M250.2,439.2 L247.6,437.4 M244.4,471.8 L245.3,471.7 M232.2,444.1 L234.1,441.5 L240.3,439.1 L244.5,437.9 L247.6,437.4 M261.7,394.8 L263.7,398.9 L267.2,405.2 L267.8,407.4 L270.5,411.8 M261.7,394.8 L255.8,395.2 L250.4,398.3 L247.5,399.6 M247.5,399.6 L247.2,403.9 L244.1,406.1 L244.6,412.7 L243.1,415.9 M270.5,411.8 L268.3,418.2 M268.3,418.2 L265.1,416.9 L260.7,417.4 L254.5,419.0 L250.8,419.7 L246.5,420.3 M243.1,415.9 L246.5,420.3 M290.2,394.7 L288.3,391.2 M288.4,406.4 L282.4,408.0 L278.1,411.0 L276.9,410.0 L270.5,411.8 M288.3,391.2 L283.1,391.7 L279.3,393.5 L274.0,391.7 L269.7,394.4 L267.1,394.6 L262.6,393.5 M262.6,393.5 L261.7,394.8 M232.0,384.8 L227.7,387.5 L225.0,390.0 L221.5,389.7 L216.2,392.8 M232.0,384.8 L235.5,388.3 L237.0,389.8 L241.4,394.8 L243.6,395.2 L247.5,399.6 M216.2,392.8 L218.4,397.5 L215.7,402.3 L217.8,405.5 L217.4,409.8 L219.6,413.8 L219.8,416.9 M219.8,416.9 L222.5,417.0 L227.9,418.2 L231.9,417.1 L237.8,415.3 L243.1,415.9 M276.2,434.0 L273.2,430.2 L274.0,426.9 L270.1,421.0 L268.3,418.2 M247.6,437.4 L245.9,432.9 L245.8,430.4 L245.3,422.6 L246.5,420.3 M216.1,421.8 L219.8,416.9 M216.1,421.8 L218.9,426.1 L223.4,429.7 L223.6,431.7 L228.4,438.3 L229.8,442.3 L232.2,444.1 M270.6,739.9 L273.0,743.9 L272.7,750.0 M256.2,750.7 L259.2,753.7 L260.7,757.6 M272.7,750.0 L269.8,752.6 L264.2,757.8 M260.7,757.6 L264.2,757.8 M247.6,766.7 L253.9,768.2 M260.7,757.6 L256.7,763.1 L256.3,763.7 L253.9,768.2 M252.9,782.3 L254.7,778.6 L256.1,772.7 M253.9,768.2 L256.1,772.7 M270.9,786.5 L269.8,782.6 L271.9,775.2 M256.1,772.7 L259.4,772.4 L266.4,772.5 L271.9,775.2 M288.3,747.7 L285.2,754.2 M272.7,750.0 L276.1,750.6 L282.7,754.8 M285.2,754.2 L282.7,754.8 M264.2,757.8 L267.8,761.8 L269.3,765.4 L274.0,767.3 M282.7,754.8 L281.4,759.0 L275.8,763.8 L274.0,767.3 M271.9,775.2 L274.7,772.3 M274.7,772.3 L274.0,767.3 M328.1,753.9 L328.3,753.0 M332.7,704.6 L330.5,703.8 M330.5,703.8 L330.7,698.6 L330.7,695.5 L331.3,692.0 L331.1,686.6 M339.7,686.6 L336.0,684.0 M336.0,684.0 L331.1,686.6 M317.8,701.0 L318.2,696.2 L320.0,692.4 L319.6,685.2 M317.8,701.0 L323.9,705.8 M323.9,705.8 L330.5,703.8 M319.6,685.2 L324.8,686.6 L331.1,686.6 M338.2,674.4 L336.5,679.6 L336.0,684.0 M306.6,674.8 L309.7,667.6 M306.6,674.8 L307.9,675.6 L313.8,678.8 L315.2,682.7 L319.6,685.2 M309.5,728.2 L311.7,724.1 L310.7,716.3 M309.5,728.2 L304.8,726.2 L298.0,727.3 M298.0,727.3 L297.5,721.4 L296.4,718.4 M296.4,718.4 L302.6,713.3 L305.3,711.7 M305.3,711.7 L310.7,716.3 M294.8,730.9 L298.0,727.3 M286.0,713.6 L292.3,716.2 L296.4,718.4 M304.5,702.7 L303.8,706.8 L305.3,711.7 M304.5,702.7 L308.0,701.2 L313.5,701.8 L317.8,701.0 M323.9,705.8 L323.9,711.6 L321.2,714.5 M321.2,714.5 L317.4,714.8 L310.7,716.3 M298.8,743.9 L301.6,745.0 M301.6,745.0 L308.5,743.2 M309.5,728.2 L310.0,728.7 M310.0,728.7 L310.9,733.0 L310.4,739.2 L308.5,743.2 M315.8,755.5 L315.6,749.9 L314.1,745.7 M328.7,746.9 L322.6,741.7 M322.6,741.7 L317.6,742.1 L314.1,745.7 M324.4,719.9 L322.6,724.4 L320.7,729.3 M324.4,719.9 L325.3,720.0 M327.9,734.2 L324.6,734.9 M324.6,734.9 L320.7,729.3 M321.2,714.5 L324.4,719.9 M310.0,728.7 L316.8,728.9 L320.7,729.3 M322.6,741.7 L324.6,734.9 M308.5,743.2 L314.1,745.7 M276.7,647.5 L276.4,654.3 L273.3,657.9 M244.0,645.3 L249.5,643.6 L251.4,638.1 L254.7,636.6 L258.3,634.4 M244.0,645.3 L243.8,648.8 L247.9,653.4 L246.2,658.4 L248.1,662.1 M248.1,662.1 L250.5,663.2 L256.2,662.3 L262.6,659.9 L265.8,659.1 L269.4,658.6 L273.3,657.9 M228.9,667.4 L233.0,668.1 L237.2,666.0 L243.7,665.1 L246.3,665.0 M226.3,642.3 L229.2,640.1 M244.0,645.3 L241.1,643.7 L232.2,642.4 L229.2,640.1 M248.1,662.1 L246.3,665.0 M302.8,701.0 L298.0,699.3 L294.3,700.4 L288.2,700.0 L284.4,702.0 M302.8,701.0 L303.0,696.3 L303.2,693.4 L304.0,688.0 L304.9,682.4 L305.1,677.8 L305.9,675.2 M284.4,702.0 L285.5,697.1 L284.6,694.1 L287.5,688.4 L287.5,686.0 L289.9,681.2 L288.7,677.2 M305.9,675.2 L303.5,676.9 L296.2,675.7 L294.1,677.5 L288.7,677.2 M304.5,702.7 L302.8,701.0 M283.9,702.4 L284.4,702.0 M306.6,674.8 L305.9,675.2 M269.1,695.8 L264.5,692.2 L263.0,685.7 M263.0,685.7 L264.1,680.9 L270.4,680.4 L271.6,676.0 L273.3,672.5 L277.6,671.7 M277.6,671.7 L280.2,675.2 L283.4,676.1 L288.7,677.2 M273.3,657.9 L274.3,662.4 L277.1,665.1 L277.6,671.7 M556.9,340.4 L562.4,344.1 L566.6,344.9 M556.9,340.4 L554.3,345.0 L553.0,347.6 L550.4,353.0 M566.6,344.9 L566.6,349.4 L566.0,353.8 L564.6,358.1 M564.6,358.1 L559.8,358.6 L554.1,358.4 M550.4,353.0 L553.0,357.4 M570.7,343.6 L566.6,344.9 M570.7,343.6 L571.1,342.2 M556.8,340.2 L556.9,340.4 M579.7,358.0 L573.8,356.2 L570.8,358.2 L565.0,358.4 M577.2,347.1 L570.7,343.6 M565.0,358.4 L564.6,358.1 M565.0,358.4 L564.5,364.1 L567.6,366.9 L567.1,371.6 M567.1,371.6 L565.8,372.6 M640.1,464.2 L637.4,461.5 M632.1,462.5 L633.1,461.3 M637.4,461.5 L633.1,461.3 M633.1,461.3 L631.8,460.1 M661.1,372.7 L663.8,372.2 L668.5,369.5 M661.1,372.7 L660.1,380.2 M668.5,369.5 L674.3,372.5 L677.0,375.0 M677.0,375.0 L677.3,382.3 M677.3,382.3 L672.3,386.1 M660.1,380.2 L662.4,380.9 L668.6,385.6 L672.3,386.1 M674.5,400.4 L670.1,395.4 M672.3,409.2 L668.9,410.6 L663.4,413.8 M663.4,413.8 L659.2,411.1 L656.5,407.7 M656.5,407.7 L656.9,401.9 L657.6,399.0 M657.6,399.0 L661.9,395.8 L666.4,395.6 L670.1,395.4 M681.8,383.8 L677.3,382.3 M670.1,395.4 L672.8,390.3 L672.3,386.1 M432.6,475.9 L431.6,479.9 L429.2,486.6 M448.9,493.4 L445.0,495.4 L440.8,495.7 M429.2,486.6 L433.4,489.8 L435.1,492.6 L440.8,495.7 M457.6,508.5 L453.1,511.2 L447.0,512.4 L444.4,513.3 M444.4,513.3 L440.3,508.7 L437.7,505.3 M440.8,495.7 L439.5,500.6 L437.7,505.3 M441.5,524.5 L437.8,523.0 L433.2,521.3 L427.6,519.6 L425.8,520.6 L421.1,519.5 M441.5,524.5 L444.5,529.9 M444.5,529.9 L444.5,535.9 L441.0,540.1 M441.0,540.1 L438.0,538.4 L431.1,537.6 L427.0,539.1 L423.1,536.7 L417.6,536.9 M421.1,519.5 L418.2,523.4 L420.4,525.9 L417.9,530.4 L416.1,535.5 M416.1,535.5 L417.6,536.9 M465.5,517.0 L464.0,523.5 M444.4,513.3 L442.9,519.3 L441.5,524.5 M458.4,528.1 L453.1,530.6 L449.3,530.3 L444.5,529.9 M421.7,555.3 L420.8,549.4 L421.4,545.3 L420.3,542.2 L417.6,536.9 M442.1,543.8 L441.0,540.1 M404.4,537.7 L410.5,537.1 L416.1,535.5 M499.2,459.7 L502.1,464.0 L504.8,467.7 L508.6,470.0 M508.4,474.0 L508.6,470.0 M510.8,446.8 L513.2,448.7 L516.8,452.6 M516.8,452.6 L517.0,456.5 L518.3,463.8 M508.6,470.0 L512.9,468.4 L518.3,463.8 M543.8,444.3 L543.7,444.4 M543.8,444.3 L544.7,441.9 M526.1,436.4 L528.8,439.2 L531.5,443.1 M543.7,444.4 L541.2,445.2 L537.2,443.4 L531.5,443.1 M516.8,452.6 L524.4,450.6 L528.1,452.3 M531.5,443.1 L531.2,446.5 L528.1,452.3 M547.5,467.4 L547.1,466.0 M547.5,467.4 L545.3,472.7 L539.6,475.1 M547.1,466.0 L544.7,462.0 L541.3,461.2 L538.3,457.2 M539.6,475.1 L536.4,472.8 L530.4,472.3 L527.9,470.0 M527.9,470.0 L526.9,467.6 M526.9,467.6 L530.5,463.4 L532.2,457.6 M532.2,457.6 L538.3,457.2 M547.7,467.5 L547.5,467.4 M539.6,476.2 L539.6,475.1 M543.8,444.3 L544.8,445.1 M547.4,465.2 L547.1,466.0 M543.7,444.4 L540.5,448.1 L538.9,453.3 L538.3,457.2 M525.3,473.8 L527.9,470.0 M518.3,463.8 L523.0,465.9 M524.5,466.5 L526.9,467.6 M528.1,452.3 L532.2,457.6 M747.1,304.4 L746.5,303.1 M740.4,298.6 L740.2,300.7 M744.6,301.6 L740.2,300.7 M727.3,288.7 L723.5,292.0 M740.2,300.7 L739.2,301.1 M739.2,301.1 L735.7,297.4 L728.9,296.0 M723.5,293.3 L723.5,293.3 M723.5,292.0 L723.5,293.3 M739.2,301.1 L736.3,304.6 L733.4,311.6 M721.8,308.6 L728.3,309.7 L733.4,311.6 M721.8,308.6 L721.6,306.2 L720.5,298.7 L722.5,296.0 M723.2,293.7 L723.5,293.3 M657.5,343.5 L652.6,347.0 M657.5,343.5 L661.8,344.8 L664.0,349.0 L668.4,354.3 L670.0,356.1 M652.6,347.0 L650.5,354.1 M650.5,354.1 L652.6,358.4 L654.8,362.7 M654.8,362.7 L658.7,358.9 L663.7,358.7 L669.2,357.2 M669.2,357.2 L670.0,356.1 M658.8,339.2 L664.3,337.2 L665.1,335.7 L670.7,336.3 M658.8,339.2 L657.5,343.5 M670.7,336.3 L673.0,339.3 L677.1,343.2 M677.1,343.2 L675.3,349.4 L673.3,350.8 L670.2,356.0 M670.2,356.0 L670.0,356.1 M661.1,372.7 L658.0,368.7 L654.3,365.3 M668.5,369.5 L668.5,363.5 L669.7,361.1 L669.2,357.2 M654.3,365.3 L654.8,362.7 M670.2,356.0 L673.7,356.0 L677.6,358.0 L681.9,360.5 M677.0,375.0 L680.6,371.5 L683.4,366.6 M681.9,360.5 L683.4,366.6 M683.4,366.6 L688.7,368.6 M180.2,508.0 L185.1,505.3 L190.7,502.6 L194.2,500.6 M180.2,508.0 L177.5,502.8 L176.0,500.2 L176.1,493.7 M194.2,500.6 L191.8,495.3 L189.4,494.8 L184.1,489.9 M184.1,489.9 L177.0,491.1 M177.0,491.1 L176.1,493.7 M193.8,477.9 L198.8,479.7 L199.5,482.5 L202.2,484.3 L206.4,488.9 M193.8,477.9 L191.3,481.9 L186.4,486.9 L184.1,489.9 M201.8,501.7 L194.2,500.6 M473.0,349.4 L467.9,350.1 L464.3,350.0 M473.0,349.4 L476.5,343.6 M458.1,340.2 L459.3,338.7 M543.4,351.6 L542.6,352.0 M543.4,351.6 L542.5,346.1 L540.9,343.5 L539.3,337.2 M532.7,353.3 L530.9,349.7 L528.4,344.2 M528.4,344.2 L531.8,343.0 L536.5,339.4 L538.2,336.2 M539.3,337.2 L538.2,336.2 M550.4,353.0 L543.4,351.6 M553.1,339.3 L547.6,338.1 L545.4,337.6 L539.3,337.2 M537.8,333.0 L538.2,336.2 M529.8,415.0 L533.8,409.5 L534.5,404.8 M519.9,397.1 L523.2,397.3 M528.6,325.5 L524.3,328.0 L522.4,332.1 M528.6,325.5 L525.0,322.0 M530.0,325.7 L528.6,325.5 M523.7,343.7 L528.4,344.2 M515.1,394.2 L512.9,390.6 L509.4,385.4 M509.4,385.4 L508.4,385.2 M497.4,399.6 L496.1,392.5 M496.1,392.5 L501.6,388.7 L504.1,385.8 L508.4,385.2 M518.2,348.1 L516.5,355.9 M527.0,361.2 L522.7,359.9 L518.6,360.1 M516.5,355.9 L518.6,360.1 M509.4,385.4 L512.5,380.9 L514.9,377.9 L518.0,376.5 M518.0,376.5 L516.9,372.5 L514.1,367.7 M508.4,385.2 L505.8,379.4 L504.1,378.7 L499.1,373.1 M499.1,373.1 L500.1,368.9 M514.1,367.7 L510.0,366.4 L505.2,369.8 L500.1,368.9 M235.3,200.0 L235.4,197.8 M235.4,197.8 L240.9,193.4 M255.6,204.6 L250.0,204.8 L246.0,205.8 L243.3,208.8 M255.6,204.6 L253.9,197.1 M253.9,197.1 L248.3,193.9 L244.5,195.5 L240.9,193.4 M279.6,266.2 L276.8,261.4 L273.2,259.0 L272.0,255.5 M265.6,271.2 L262.7,266.6 L261.5,263.6 M272.0,255.5 L264.5,258.1 M261.5,263.6 L264.5,258.1 M248.6,275.3 L251.2,276.8 L255.1,281.4 L259.3,283.2 M248.6,275.3 L249.3,271.0 L253.0,264.6 M259.3,283.2 L261.9,281.9 M261.5,263.6 L257.9,263.5 L253.0,264.6 M239.1,219.8 L240.4,221.3 M230.6,238.1 L236.8,237.1 M230.6,238.1 L226.4,236.3 L222.8,234.4 M222.8,234.4 L225.6,231.2 L226.8,225.1 L229.8,221.5 L230.9,218.3 M236.8,237.1 L237.7,231.9 L240.5,229.8 L239.0,223.4 L240.4,221.3 M191.9,162.2 L194.1,158.3 M191.9,162.2 L187.2,160.5 L181.5,158.3 L178.2,157.6 M177.4,151.6 L181.2,149.7 L185.3,150.4 L190.3,147.3 M194.1,158.3 L190.4,152.5 L190.3,147.3 M203.9,144.8 L199.5,143.8 L194.2,145.7 L191.5,144.9 M203.9,144.8 L206.8,148.3 L207.0,154.0 M194.1,158.3 L196.5,156.8 L203.5,155.7 L206.9,154.3 M190.3,147.3 L191.5,144.9 M207.0,154.0 L206.9,154.3 M366.9,314.9 L362.6,312.3 M366.9,314.9 L369.1,312.7 L372.0,308.0 M362.6,312.3 L361.7,310.0 L361.8,305.9 L359.3,300.6 M383.0,318.9 L377.8,316.8 L373.2,318.5 L368.1,317.1 M383.0,318.9 L385.7,314.9 M368.1,317.1 L366.9,314.9 M310.7,213.9 L310.0,213.6 M387.0,379.0 L387.9,383.5 L387.8,390.9 M373.5,392.3 L379.0,392.7 L383.3,393.9 M387.8,390.9 L383.3,393.9 M373.5,409.7 L370.4,408.2 M373.5,409.7 L378.4,407.4 L382.1,404.7 M383.3,393.9 L381.9,400.5 L382.1,404.7 M473.0,349.4 L475.8,354.5 L479.4,358.6 L481.3,361.4 M481.3,361.4 L478.8,365.4 M460.4,362.3 L463.6,364.8 L468.2,367.7 M478.8,365.4 L474.0,368.2 L468.2,367.7 M455.7,363.8 L454.6,367.0 L452.7,373.7 M459.0,378.8 L455.2,377.5 L452.7,373.7 M459.0,378.8 L466.0,376.5 M468.2,367.7 L466.9,372.6 L466.0,376.5 M420.1,356.5 L421.1,359.4 L420.6,363.4 L419.1,369.5 M420.1,356.5 L425.6,355.9 L429.9,357.3 L432.2,357.9 M419.1,369.5 L422.7,369.4 L425.8,371.3 L431.3,373.0 M432.2,357.9 L433.6,361.7 L437.3,365.0 M431.3,373.0 L436.5,370.3 M437.3,365.0 L436.5,370.3 M413.0,373.9 L413.8,373.8 M420.0,356.4 L420.1,356.5 M413.8,373.8 L419.1,369.5 M401.7,359.5 L400.0,361.6 M438.1,344.9 L436.0,348.3 L434.8,354.6 L432.2,357.9 M422.4,387.7 L419.1,382.8 L418.0,382.4 L417.3,379.2 L413.8,373.8 M422.4,387.7 L426.7,388.6 M426.7,388.6 L426.2,383.6 L427.7,379.4 L430.4,377.4 L431.3,373.0 M448.0,359.4 L444.8,360.0 L441.8,364.6 L437.3,365.0 M426.7,388.6 L430.0,392.0 M430.0,392.0 L434.2,390.8 L438.6,389.6 L443.9,387.4 M444.3,377.0 L444.3,381.4 L443.9,387.4 M444.3,377.0 L440.1,372.5 L436.5,370.3 M444.3,377.0 L449.1,375.5 L452.7,373.7 M451.6,405.4 L454.9,400.9 L460.9,399.2 M451.6,405.4 L447.4,403.2 M447.4,403.2 L446.6,400.3 L448.7,393.1 L446.9,389.7 M446.9,389.7 L453.2,388.6 L457.6,389.2 M460.9,399.2 L460.2,391.3 M460.2,391.3 L457.6,389.2 M455.0,415.6 L454.5,412.1 L451.6,405.4 M469.1,405.0 L464.7,402.5 L460.9,399.2 M437.6,406.6 L444.1,403.3 L447.4,403.2 M429.9,400.9 L431.1,395.6 L430.0,392.0 M443.9,387.4 L446.9,389.7 M459.0,378.8 L457.6,383.6 L457.6,389.2 M470.6,388.3 L471.6,392.2 L473.5,397.6 L477.0,400.3 M470.6,388.3 L465.1,389.1 L460.2,391.3 M470.6,388.3 L472.9,383.6 M466.0,376.5 L468.7,381.1 L472.9,383.6 M103.2,465.7 L100.2,469.4 L97.2,474.0 M103.2,465.7 L99.5,462.6 L94.5,457.6 M94.5,457.6 L90.5,459.3 L84.9,459.3 M92.2,473.2 L97.2,474.0 M92.2,473.2 L88.3,469.8 L87.3,465.0 L83.4,461.8 M83.4,461.8 L84.9,459.3 M84.0,454.9 L84.9,459.3 M96.0,440.3 L97.4,443.3 M98.5,448.9 L96.7,454.3 L94.5,457.6 M82.3,462.3 L83.4,461.8 M85.4,478.5 L88.9,475.0 L92.2,473.2 M99.0,483.9 L100.0,480.6 M99.0,483.9 L103.3,488.1 L104.1,493.6 M100.0,480.6 L102.7,481.3 L107.9,482.4 L112.1,480.8 M110.0,496.5 L111.2,493.5 L114.9,487.2 L114.7,483.8 M114.7,483.8 L112.1,480.8 M93.8,486.8 L99.0,483.9 M97.2,474.0 L100.0,480.6 M109.6,463.9 L113.7,469.3 M109.6,463.9 L103.2,465.7 M113.7,469.3 L112.3,474.6 L112.1,480.8 M174.0,475.7 L169.7,471.2 L168.6,470.3 L165.5,466.2 M174.0,475.7 L173.2,478.5 L171.2,483.5 M171.2,483.5 L163.5,484.3 M163.5,484.3 L157.8,479.6 M165.5,466.2 L160.7,471.0 L156.8,472.3 M156.8,472.3 L157.1,477.0 M155.8,471.8 L156.8,472.3 M165.9,462.8 L162.1,458.4 M161.8,458.0 L158.4,454.1 M165.9,462.8 L165.5,466.2 M141.4,471.9 L139.8,475.2 M139.8,475.2 L141.2,478.7 L143.4,484.7 M130.9,457.3 L129.8,457.8 M129.8,457.8 L128.8,461.3 L125.8,465.9 L124.9,471.2 M124.9,471.2 L127.7,476.2 M139.8,475.2 L135.1,475.7 L132.2,476.5 L127.7,476.2 M113.7,469.3 L119.2,469.5 L124.9,471.2 M114.7,483.8 L119.1,483.9 L124.4,483.6 M127.7,476.2 L125.3,479.0 L124.4,483.6 M193.8,477.9 L193.0,474.5 M218.5,471.5 L212.9,466.1 L211.2,462.1 M193.0,474.5 L196.6,471.6 L201.0,468.9 L204.4,467.7 L208.7,464.8 L211.2,462.1 M230.6,447.7 L226.2,450.3 L221.8,451.1 L218.0,454.6 L212.0,454.3 M212.0,454.3 L211.0,457.0 M211.2,462.1 L211.0,457.0 M164.4,437.4 L167.4,433.3 L171.6,430.7 M160.3,410.3 L165.2,413.1 L170.4,413.9 M171.6,430.7 L173.1,426.6 L169.3,423.8 L172.3,419.2 L170.4,413.9 M191.1,393.5 L189.8,397.4 L188.8,402.7 L188.0,406.8 L185.8,409.6 M170.4,413.9 L173.9,411.2 L178.7,412.6 L185.8,409.6 M166.1,445.4 L171.2,447.5 L174.6,448.7 M171.6,430.7 L175.7,431.7 L180.8,436.6 L183.5,437.6 M174.6,448.7 L176.0,443.9 L178.8,441.8 L183.5,437.6 M106.8,451.0 L110.3,446.0 L116.2,444.6 M106.8,451.0 L107.6,453.7 L109.9,460.7 L109.9,463.1 M116.2,444.6 L119.9,446.9 L120.1,450.4 L121.4,456.0 M109.9,463.1 L113.1,461.5 L116.9,457.4 L121.4,456.0 M117.3,440.2 L116.2,444.6 M100.0,447.8 L106.8,451.0 M109.6,463.9 L109.9,463.1 M129.8,457.8 L124.9,456.3 L121.4,456.0 M205.5,557.9 L202.2,565.1 M199.3,535.5 L193.6,534.4 L191.1,534.0 L186.1,533.0 M202.2,565.1 L199.1,563.4 L192.2,565.3 L187.5,563.9 L186.0,561.7 L180.1,562.9 M180.1,562.9 L180.7,558.4 L179.1,552.7 L181.4,551.1 L180.5,547.5 L179.8,542.1 L179.1,537.8 M186.1,533.0 L183.0,535.7 L179.1,537.8 M204.0,506.9 L198.8,510.8 L195.9,514.0 L190.7,514.5 L187.9,517.7 L185.1,521.1 M186.1,533.0 L186.9,529.1 L185.3,523.3 L185.1,521.1 M164.9,560.3 L171.1,560.0 L171.5,563.0 L177.5,565.0 M161.6,534.8 L161.6,534.7 M180.1,562.9 L177.5,565.0 M179.1,537.8 L173.8,538.1 L170.5,536.5 L166.4,536.6 L161.6,534.7 M180.2,508.0 L178.7,511.7 M185.1,521.1 L180.8,517.8 L178.7,511.7 M236.6,554.3 L234.5,559.3 L234.7,564.8 L235.3,569.4 L233.8,572.2 M202.2,565.1 L202.8,567.1 L207.5,572.7 L207.3,575.9 M233.8,572.2 L231.2,572.0 L225.5,572.3 L221.5,575.3 L216.9,573.5 L211.8,574.5 L207.3,575.9 M274.6,614.8 L273.2,611.0 L273.8,605.5 L274.6,604.0 L273.6,597.7 M247.5,614.4 L251.0,620.1 L256.5,622.0 M247.5,614.4 L249.3,609.1 L249.8,604.7 L251.6,602.4 L253.8,597.2 L252.9,593.3 M252.9,593.3 L257.9,594.0 L262.1,595.2 L266.8,594.3 L268.5,595.0 L273.6,597.7 M302.3,605.4 L299.6,602.8 L296.8,599.6 L293.1,595.6 L292.8,589.8 L288.6,586.0 M273.6,597.7 L278.6,595.9 L280.9,593.8 L284.4,588.1 L288.6,586.0 M309.4,572.7 L303.6,574.8 L300.2,577.2 L297.8,576.3 L292.5,579.2 L289.2,579.1 M288.6,586.0 L289.2,579.1 M177.5,565.0 L175.0,570.6 L174.4,575.0 M169.2,578.3 L174.4,575.0 M225.6,676.8 L228.5,680.0 L231.3,686.2 L233.5,689.5 M246.3,665.0 L249.5,669.1 L250.7,674.1 L252.1,677.7 L251.6,682.8 M233.5,689.5 L237.1,689.3 L242.8,685.1 L248.9,683.9 L251.6,682.8 M250.6,706.7 L249.6,705.4 M263.0,685.7 L256.0,685.5 M249.6,705.4 L252.1,703.4 L251.4,698.2 L253.3,695.4 L256.1,688.4 L256.0,685.5 M256.0,685.5 L251.6,682.8 M210.0,681.4 L212.6,687.4 L211.4,690.2 L212.0,696.1 M296.9,491.9 L295.6,487.0 L291.5,485.5 L289.8,483.9 L286.6,479.6 M296.9,491.9 L292.5,496.8 L291.1,500.3 L290.3,502.8 L289.2,503.8 L285.1,508.4 M285.1,508.4 L281.2,504.9 L277.6,505.7 L272.4,502.6 L267.8,502.7 L263.1,498.8 M277.3,479.1 L271.7,480.4 L269.4,485.7 L264.8,487.3 M277.3,479.1 L281.1,479.9 L286.6,479.6 M263.1,498.8 L263.0,494.8 L264.8,487.3 M260.4,521.1 L263.7,522.7 L269.5,525.6 L272.9,526.6 L275.8,530.5 M289.2,523.8 L286.1,518.1 L288.3,512.6 L285.1,508.4 M287.9,526.8 L284.9,527.9 L279.5,528.3 L275.8,530.5 M261.4,500.7 L263.1,498.8 M271.1,457.7 L273.3,463.5 L272.4,465.1 L275.2,469.8 L275.1,475.8 L277.3,479.1 M245.3,471.7 L250.0,474.0 L253.3,477.1 L255.9,480.1 L256.6,480.2 L260.9,484.6 L264.8,487.3 M297.0,464.7 L295.6,468.0 L292.0,473.6 L289.5,475.4 L286.6,479.6 M316.5,474.4 L314.7,478.8 L313.6,480.2 L311.0,487.1 L308.5,489.2 L305.2,493.2 M316.5,474.4 L320.0,476.2 L325.2,476.5 L330.6,479.0 M330.6,479.0 L333.1,484.7 M333.1,484.7 L330.1,487.7 L327.6,492.9 L327.2,495.6 L323.2,497.8 M323.2,497.8 L316.4,495.6 L315.6,497.3 L308.9,497.2 M308.9,497.2 L305.2,493.2 M312.0,464.8 L312.8,469.2 L316.5,474.4 M296.9,491.9 L301.4,492.9 L305.2,493.2 M339.0,466.4 L335.3,471.7 L332.1,476.1 L330.6,479.0 M339.0,487.6 L333.1,484.7 M332.0,511.0 L329.5,504.8 L327.2,503.1 L323.2,497.8 M308.9,515.8 L309.9,512.2 L310.8,504.9 L308.0,500.1 L308.9,497.2 M379.3,436.0 L384.1,430.1 M379.3,436.0 L375.0,436.0 L370.3,436.1 L366.2,434.4 M367.0,425.5 L366.0,431.4 L366.2,434.4 M367.0,425.5 L372.1,420.7 L376.2,418.7 M384.1,430.1 L382.0,424.5 L382.5,421.7 M376.2,418.7 L382.5,421.7 M397.0,432.8 L390.9,433.6 L389.1,432.7 L384.1,430.1 M384.7,451.6 L383.5,447.5 L380.1,444.2 L382.0,439.7 L379.3,436.0 M358.4,441.2 L361.9,439.4 L366.2,434.4 M358.1,416.5 L360.1,419.0 L363.1,421.3 L367.0,425.5 M373.5,409.7 L376.4,414.7 L376.2,418.7 M392.0,414.6 L395.3,416.9 L399.9,419.4 M392.0,414.6 L387.7,418.7 L382.5,421.7 M392.0,414.6 L391.4,411.2 M382.1,404.7 L386.2,407.2 L391.4,411.2 M388.4,344.3 L393.4,343.0 L398.8,343.9 L401.7,342.1 M388.4,344.3 L388.9,341.5 L384.8,336.6 L384.7,330.8 M401.7,342.1 L401.0,338.4 L398.9,334.3 L398.0,328.3 M398.0,328.3 L392.5,328.6 L391.5,327.9 L386.0,328.7 M384.7,330.8 L386.0,328.7 M403.7,343.4 L401.7,342.1 M385.1,349.1 L388.4,344.3 M373.4,334.2 L379.3,331.5 L384.7,330.8 M402.0,323.9 L398.0,328.3 M383.0,318.9 L382.9,323.3 L386.0,328.7 M365.9,326.6 L366.9,321.5 L368.1,317.1 M334.6,325.7 L338.2,327.4 L342.9,328.4 M334.6,325.7 L334.3,322.6 L331.3,316.7 M331.3,316.7 L334.3,311.6 M342.9,328.4 L345.3,326.2 L349.8,323.4 M340.6,307.7 L345.8,310.7 L348.6,313.8 L350.3,315.6 M340.6,307.7 L334.3,311.6 M349.8,323.4 L350.3,315.6 M359.2,329.8 L355.8,326.1 L349.8,323.4 M351.8,342.3 L346.2,339.6 M346.2,339.6 L344.8,335.5 L342.9,328.4 M362.6,312.3 L359.5,311.7 L355.3,313.4 L350.3,315.6 M341.5,304.8 L345.2,301.0 L352.0,301.3 L356.0,298.5 M341.5,304.8 L340.6,307.7 M309.6,378.1 L308.9,377.3 M310.0,390.8 L305.0,395.6 M288.3,391.2 L288.4,389.9 M288.4,389.9 L292.1,388.1 L294.0,383.8 L294.1,381.1 L297.2,376.0 M308.9,377.3 L304.8,376.2 L297.2,376.0 M324.9,379.2 L324.5,373.6 L325.2,369.4 M314.7,359.9 L312.9,363.1 L310.5,370.0 L308.3,373.9 L308.9,377.3 M314.7,359.9 L315.4,359.8 M315.4,359.8 L317.7,362.4 L322.7,365.0 L325.2,369.4 M340.6,370.0 L336.0,364.1 M334.0,383.1 L328.5,383.5 M325.2,369.4 L330.1,365.9 L333.1,365.3 L336.0,364.1 M347.9,354.8 L342.6,355.6 L336.4,356.7 M336.4,356.7 L336.0,364.1 M337.8,403.2 L337.8,403.8 M337.8,403.2 L334.0,400.3 L329.0,398.1 L324.7,396.8 M337.8,403.8 L336.1,406.4 L333.5,413.1 L328.7,416.2 M324.7,396.8 L320.9,400.2 L321.2,405.6 L316.4,409.4 L315.7,411.6 M315.7,411.6 L321.1,412.9 L325.1,414.4 L328.7,416.2 M344.7,395.8 L342.1,398.3 L337.8,403.2 M345.6,413.0 L342.8,410.4 L337.8,403.8 M324.0,392.9 L324.7,396.8 M335.1,426.1 L332.9,422.8 L328.7,416.2 M314.4,412.0 L315.7,411.6 M268.7,322.5 L274.6,322.6 L278.4,322.9 L281.9,325.1 M268.7,322.5 L267.9,320.7 M267.9,320.7 L269.3,316.4 L272.2,312.7 L275.2,307.2 M288.5,319.1 L284.7,321.4 L281.9,325.1 M288.5,319.1 L287.2,316.6 L283.4,311.9 L278.9,311.1 L277.3,307.3 M277.3,307.3 L275.2,307.2 M274.3,290.1 L272.9,292.4 L270.8,299.1 L269.9,301.5 M289.1,292.8 L288.0,299.6 M288.0,299.6 L285.2,301.3 L280.2,304.7 L277.3,307.3 M269.9,301.5 L275.2,307.2 M254.2,295.7 L251.0,297.4 L247.2,296.9 L241.9,294.9 M254.2,295.7 L257.6,300.3 M257.6,300.3 L255.6,305.2 L256.8,309.5 L256.3,311.6 L253.8,316.1 M241.9,294.9 L237.1,298.0 L236.2,302.8 L230.5,305.4 M227.6,311.4 L232.0,314.2 L235.4,313.8 L241.1,315.3 L245.0,316.4 L248.1,319.4 M227.6,311.4 L230.5,305.4 M248.1,319.4 L253.8,316.1 M240.5,277.1 L245.2,277.1 L248.6,275.3 M259.3,283.2 L256.6,288.9 L254.0,292.7 L254.2,295.7 M238.2,280.6 L237.9,287.3 L241.2,290.7 L241.9,294.9 M269.9,301.5 L265.0,301.0 L261.3,300.9 L257.6,300.3 M267.9,320.7 L264.9,319.8 L258.1,316.8 L253.8,316.1 M229.7,280.9 L227.6,283.5 L223.8,286.8 M223.8,286.8 L225.7,291.2 L226.1,295.9 L226.9,299.5 L230.5,305.4 M226.6,338.8 L232.5,337.8 L234.8,341.1 L241.0,340.8 M241.0,340.8 L243.8,338.2 L249.0,333.3 M249.0,333.3 L248.9,327.0 L247.1,322.4 L248.1,319.4 M222.1,314.3 L219.6,321.1 L218.5,324.6 M222.1,314.3 L227.6,311.4 M214.4,285.3 L218.3,284.8 L223.8,286.8 M214.4,285.3 L215.4,290.1 L213.2,291.6 L212.4,297.6 L211.8,300.9 L211.8,305.5 M211.8,305.5 L213.3,308.4 L219.0,312.0 L222.1,314.3 M290.7,760.4 L288.9,764.0 L287.6,770.1 L287.2,774.3 M290.7,760.4 L296.0,759.5 L301.8,760.8 M301.8,760.8 L302.4,761.3 M302.4,761.3 L302.2,765.4 L303.9,772.2 M303.9,772.2 L302.7,773.9 M302.7,773.9 L298.6,775.7 L294.2,774.8 L290.0,777.1 M290.0,777.1 L287.2,774.3 M285.2,754.2 L286.8,755.9 L290.7,760.4 M274.7,772.3 L277.0,774.0 L282.8,772.7 L287.2,774.3 M301.6,745.0 L303.0,750.4 L303.5,753.6 L301.8,760.8 M314.3,758.1 L309.2,760.5 L308.1,761.2 L302.4,761.3 M308.0,772.0 L303.9,772.2 M304.3,778.1 L302.7,773.9 M289.7,784.8 L290.0,777.1 M596.1,371.3 L590.9,369.4 L587.5,369.2 L580.4,368.8 M596.1,371.3 L597.7,374.1 M597.7,374.1 L593.6,377.5 L591.3,382.9 M580.4,368.8 L577.6,372.4 M577.6,372.4 L580.0,375.6 L579.8,381.8 M580.4,358.5 L579.3,362.2 L580.4,368.8 M597.3,360.6 L592.8,354.9 M597.3,360.6 L597.3,366.2 L596.1,371.3 M567.1,371.6 L572.2,373.6 L577.6,372.4 M417.4,491.9 L416.4,496.6 L413.4,498.2 L410.3,500.5 L407.5,505.2 L403.0,506.4 M417.4,491.9 L418.9,492.2 M418.9,492.2 L420.1,496.1 L422.9,499.3 L425.4,506.1 L425.8,508.5 M402.6,510.1 L403.0,506.4 M402.6,510.1 L404.9,512.7 L412.0,512.0 L412.6,515.4 L415.6,517.4 L421.0,519.1 M421.0,519.1 L423.5,513.6 L425.8,508.5 M391.9,490.8 L393.8,496.1 L398.1,498.1 L398.3,503.5 L403.0,506.4 M408.8,483.1 L411.7,487.9 L413.4,487.0 L417.4,491.9 M429.2,486.6 L423.2,489.2 L418.9,492.2 M437.7,505.3 L432.6,507.8 L429.0,505.5 L425.8,508.5 M398.4,513.5 L402.6,510.1 M421.1,519.5 L421.0,519.1 M716.8,283.1 L712.4,284.4 L706.2,285.0 M716.8,283.1 L718.8,277.7 L719.5,274.9 M700.9,274.9 L698.9,276.2 M713.3,268.5 L717.3,271.5 L719.5,274.9 M698.9,276.2 L701.9,279.4 L706.2,285.0 M721.4,274.4 L719.5,274.9 M723.5,292.0 L720.1,289.1 L716.8,283.1 M698.3,276.0 L698.9,276.2 M737.7,328.0 L739.1,325.2 M734.9,317.8 L733.4,311.6 M734.9,317.8 L738.7,321.0 M681.9,360.5 L687.5,355.9 L689.5,352.4 M692.6,353.7 L689.5,352.4 M677.1,343.2 L681.0,342.8 L687.3,343.1 M689.5,352.4 L689.5,346.4 L687.3,343.1 M586.4,341.2 L586.3,340.4 M159.7,279.0 L164.2,279.2 M167.3,272.0 L166.2,276.3 M164.2,279.2 L166.2,276.3 M162.7,313.6 L163.2,310.1 L165.0,306.1 L166.8,300.4 L169.4,296.2 L169.7,292.6 M164.2,279.2 L167.8,283.2 L167.3,287.6 L169.7,292.6 M186.4,315.4 L187.8,309.8 L190.5,307.0 L194.9,302.7 M169.7,292.6 L173.3,292.5 L179.2,292.2 L185.1,292.3 M185.1,292.3 L186.7,296.5 L193.6,300.4 L194.9,302.7 M211.8,305.5 L206.9,304.2 L203.2,301.8 L199.0,301.8 M194.9,302.7 L199.0,301.8 M539.7,376.1 L542.3,381.7 M539.7,376.1 L533.8,376.2 L530.2,374.3 M530.2,386.5 L526.5,384.4 M530.2,374.3 L525.2,378.5 M526.5,384.4 L525.2,378.5 M540.3,375.1 L539.7,376.1 M529.9,371.0 L530.2,374.3 M518.3,395.2 L522.5,392.4 L523.3,387.4 L526.5,384.4 M518.0,376.5 L525.2,378.5 M518.6,360.1 L515.4,364.8 L514.1,367.7 M485.8,390.0 L492.4,389.5 M485.8,390.0 L481.2,386.1 L478.4,381.7 M492.4,389.5 L493.4,386.9 L491.7,379.9 L493.5,377.5 M493.5,377.5 L488.9,378.2 L484.5,375.5 L481.6,375.7 M478.4,381.7 L481.6,375.7 M478.5,400.4 L481.2,397.4 L481.4,392.4 L485.8,390.0 M496.1,392.5 L492.4,389.5 M472.9,383.6 L478.4,381.7 M499.1,373.1 L493.5,377.5 M481.3,361.4 L481.3,361.3 M481.3,361.3 L485.3,364.9 L491.8,363.8 L493.8,366.4 L499.6,367.9 M500.1,368.9 L499.6,367.9 M478.8,365.4 L479.1,369.4 L481.6,375.7 M503.5,350.9 L503.1,353.6 M491.1,351.1 L497.2,352.1 L501.1,355.2 M491.1,351.1 L490.4,347.1 M503.1,353.6 L501.1,355.2 M516.5,355.9 L513.6,356.8 L508.5,352.8 L503.1,353.6 M481.3,361.3 L485.9,359.5 L486.8,356.4 L491.1,351.1 M499.6,367.9 L501.0,365.2 L498.9,357.5 L501.1,355.2 M286.8,188.8 L285.6,192.7 L282.4,196.3 M286.8,188.8 L293.6,189.4 M298.8,197.7 L294.9,203.5 M294.9,203.5 L289.4,204.1 L285.7,204.3 M282.4,196.3 L284.5,201.0 L285.7,204.3 M281.7,181.9 L284.8,184.0 L286.8,188.8 M281.7,181.9 L278.0,182.1 L275.0,184.6 L269.2,187.7 M272.4,195.1 L270.1,192.1 L269.2,187.7 M272.4,195.1 L275.7,194.7 L282.4,196.3 M305.7,213.5 L299.9,215.6 M299.9,215.6 L297.9,212.0 L295.5,208.1 L294.9,203.5 M210.4,163.4 L213.3,164.9 L218.4,164.5 M210.4,163.4 L207.2,158.2 L206.9,154.3 M207.0,154.0 L212.1,151.0 L215.8,151.2 L219.2,149.5 M219.2,149.5 L222.5,151.8 L224.8,157.4 M218.4,164.5 L222.7,162.5 L224.8,157.4 M230.9,181.1 L228.6,175.4 M230.9,181.1 L229.0,187.0 L226.7,192.3 M223.8,174.8 L228.6,175.4 M223.8,174.8 L220.6,176.7 L216.3,180.0 M226.7,192.3 L224.8,192.6 M224.8,192.6 L222.4,190.7 M219.8,188.7 L216.7,186.3 M216.3,180.0 L216.7,186.3 M235.4,197.8 L232.0,195.3 L226.7,192.3 M240.9,193.4 L241.1,185.5 M241.1,185.5 L236.6,182.6 L230.9,181.1 M227.5,208.7 L223.3,206.6 L220.6,203.8 L217.0,203.0 M217.0,203.0 L218.1,198.9 L223.7,196.8 L224.8,192.6 M215.6,187.2 L216.7,186.3 M217.0,203.0 L214.3,203.5 M214.3,203.5 L210.4,198.1 M252.3,182.4 L245.1,181.7 M252.3,182.4 L256.1,176.7 M245.1,181.7 L245.5,176.8 L242.5,172.4 M256.1,176.7 L254.8,172.1 L252.8,166.5 M242.5,172.4 L246.9,170.2 L252.8,166.5 M253.9,197.1 L256.8,191.3 M256.8,191.3 L254.1,186.5 L252.3,182.4 M241.1,185.5 L245.1,181.7 M268.8,187.5 L269.1,183.5 L265.8,177.5 M268.8,187.5 L266.4,187.4 L259.2,189.9 L256.8,191.3 M265.8,177.5 L259.3,177.5 L256.1,176.7 M234.9,169.6 L232.3,173.7 L228.6,175.4 M234.9,169.6 L239.1,169.9 L242.5,172.4 M255.8,247.0 L251.0,250.0 L249.9,254.7 L245.2,257.2 M255.8,247.0 L253.7,241.7 L249.6,238.8 M249.6,238.8 L245.1,238.8 L241.4,239.9 M241.4,239.9 L241.7,244.7 L239.9,249.3 L241.8,252.3 L240.4,256.6 M240.4,256.6 L245.2,257.2 M264.5,258.1 L263.4,254.4 L260.3,250.3 L256.9,247.2 M253.0,264.6 L249.0,261.8 L245.2,257.2 M256.9,247.2 L255.8,247.0 M237.2,258.1 L240.4,256.6 M229.2,250.6 L228.7,244.6 L230.2,240.4 L230.6,238.1 M236.8,237.1 L241.4,239.9 M255.6,204.6 L257.4,206.1 M240.4,221.3 L245.0,220.6 L248.9,224.3 L253.3,224.4 M257.4,206.1 L258.2,209.7 L256.6,215.0 L252.9,218.8 L253.3,224.4 M249.6,238.8 L251.9,236.7 L254.3,229.0 L255.5,227.0 M255.5,227.0 L253.3,224.4 M280.7,210.8 L280.4,215.7 M280.7,210.8 L277.8,208.2 L271.8,207.1 L269.8,202.3 M280.4,215.7 L273.7,217.6 L268.6,216.7 M268.6,216.7 L265.7,215.1 L262.7,209.6 L260.9,206.6 M269.8,202.3 L266.4,204.8 L260.9,206.6 M281.8,218.2 L280.4,215.7 M281.8,218.2 L287.2,220.2 L291.5,218.7 L295.5,218.9 L297.8,219.8 M299.9,215.6 L297.8,219.8 M285.7,204.3 L282.1,206.4 L280.7,210.8 M272.4,195.1 L269.8,202.3 M257.4,206.1 L260.9,206.6 M262.1,228.0 L263.3,225.3 L268.5,220.7 L268.6,216.7 M262.1,228.0 L255.5,227.0 M268.8,187.5 L269.2,187.7 M308.5,240.1 L304.2,239.8 L299.4,235.8 L295.4,235.5 M308.5,240.1 L311.7,235.3 L313.0,229.1 M313.0,229.1 L307.8,227.0 L303.9,226.6 L299.0,223.9 M299.0,223.9 L296.8,230.9 L294.8,234.5 M295.4,235.5 L294.8,234.5 M309.9,244.2 L307.7,248.4 M309.9,244.2 L308.5,240.1 M307.7,248.4 L302.0,250.8 L300.2,250.3 L294.7,253.9 M294.7,253.9 L294.4,247.8 L293.1,246.4 L294.5,242.1 L295.4,235.5 M315.1,219.7 L314.2,225.0 L314.5,228.4 M314.5,228.4 L313.0,229.1 M297.8,219.8 L299.0,223.9 M279.0,231.1 L273.2,233.3 L268.2,233.2 M279.0,231.1 L283.1,234.9 M283.1,234.9 L281.3,240.1 L284.0,243.0 L281.9,248.4 M266.9,240.1 L267.9,244.2 L273.3,248.9 L274.8,250.8 M266.9,240.1 L268.2,233.2 M274.8,250.8 L281.9,248.4 M281.8,218.2 L279.4,222.8 L281.3,225.0 L279.0,231.1 M262.1,228.0 L268.2,233.2 M294.8,234.5 L287.0,232.8 L283.1,234.9 M293.5,255.1 L293.8,255.0 M293.5,255.1 L288.4,252.3 L287.5,250.6 L281.9,248.4 M294.7,253.9 L293.8,255.0 M272.0,255.5 L274.8,250.8 M256.9,247.2 L259.2,243.4 L262.1,243.2 L266.9,240.1 M287.6,264.0 L289.7,258.9 L293.5,255.1 M203.0,181.0 L205.3,175.8 M193.0,169.0 L198.1,169.2 L204.2,172.8 M193.0,169.0 L188.8,172.7 M205.3,175.8 L204.2,172.8 M216.3,180.0 L209.8,179.5 L205.3,175.8 M191.9,162.2 L193.0,169.0 M210.4,163.4 L205.4,168.1 L204.2,172.8 M218.4,164.5 L222.6,167.7 L223.8,174.8 M217.3,252.0 L213.4,246.0 M222.8,234.4 L222.4,234.5 M222.4,234.5 L218.8,238.2 L215.9,241.6 L213.4,246.0 M205.0,142.2 L203.7,139.2 L202.6,133.9 M205.0,142.2 L207.9,140.2 L215.0,139.7 L217.2,138.9 M202.6,133.9 L206.1,128.2 M206.1,128.2 L212.7,127.5 L217.8,130.0 M217.8,130.0 L218.5,133.8 L217.2,138.9 M205.0,142.2 L203.9,144.8 M219.2,149.5 L220.8,143.7 M217.2,138.9 L220.8,143.7 M229.0,216.5 L224.4,217.5 L221.4,218.7 L215.1,218.6 M214.3,203.5 L211.6,208.6 L209.3,212.2 M209.3,212.2 L212.9,215.4 L215.1,218.6 M222.4,234.5 L219.3,231.7 L214.8,227.8 M215.1,218.6 L214.5,223.2 L214.8,227.8 M303.1,264.3 L306.3,260.9 L309.0,261.4 L314.7,259.8 M303.1,264.3 L304.3,269.8 L303.4,274.4 M308.5,276.1 L303.4,274.4 M308.5,276.1 L311.2,275.4 L316.3,272.0 M316.3,272.0 L318.3,265.1 L316.3,260.3 M314.7,259.8 L316.3,260.3 M307.7,248.4 L311.0,253.5 L312.3,256.4 L314.7,259.8 M293.8,255.0 L295.4,259.1 L301.2,260.2 L303.1,264.3 M299.8,276.2 L303.4,274.4 M312.6,286.4 L309.0,293.2 M312.6,286.4 L310.1,280.5 L308.5,276.1 M298.1,290.5 L301.9,291.1 L305.7,294.2 M309.0,293.2 L305.7,294.2 M394.3,393.4 L397.2,396.2 L397.6,401.8 M394.3,393.4 L401.1,389.0 L404.8,387.7 M397.6,401.8 L404.0,402.5 L408.4,404.6 M404.8,387.7 L409.2,391.0 L411.6,392.6 M411.6,392.6 L411.7,396.1 L411.1,402.2 M411.1,402.2 L408.4,404.6 M387.8,390.9 L394.3,393.4 M391.4,411.2 L395.0,407.4 L397.6,401.8 M404.9,381.6 L404.8,387.7 M407.8,417.1 L407.6,412.9 L410.1,409.3 L408.4,404.6 M422.4,387.7 L416.0,389.2 L411.6,392.6 M423.9,405.2 L417.8,405.2 L417.1,404.1 L411.1,402.2 M191.2,455.7 L189.7,458.5 L192.3,462.7 L189.0,469.0 L189.7,471.9 M191.2,455.7 L189.6,453.5 M189.6,453.5 L185.9,453.3 L181.1,454.4 L177.0,455.4 M184.4,471.2 L179.9,465.6 L179.1,463.4 L176.0,457.7 M184.4,471.2 L189.7,471.9 M176.0,457.7 L177.0,455.4 M193.0,474.5 L189.7,471.9 M211.0,457.0 L207.0,457.6 L202.4,455.2 L196.9,455.9 L191.2,455.7 M165.9,462.8 L170.2,461.7 L176.0,457.7 M174.0,475.7 L181.0,474.0 L184.4,471.2 M177.0,491.1 L172.8,488.8 L171.2,483.5 M174.6,448.7 L177.0,455.4 M191.0,443.9 L187.6,437.3 M191.0,443.9 L196.0,443.1 L199.0,444.5 L206.0,447.3 L208.3,446.6 M187.6,437.3 L191.9,434.8 L192.1,431.6 L193.4,427.1 L197.4,422.9 M208.3,446.6 L210.6,442.4 L207.8,439.6 L207.7,435.2 L209.1,427.3 L210.0,424.5 M210.0,424.5 L204.0,425.6 L201.2,422.8 L197.4,422.9 M183.5,437.6 L187.6,437.3 M189.6,453.5 L191.1,448.5 L191.0,443.9 M212.0,454.3 L211.5,451.9 L208.3,446.6 M185.8,409.6 L188.6,411.4 L189.9,417.8 L193.3,420.1 L197.4,422.9 M216.1,421.8 L210.0,424.5 M201.6,386.7 L206.1,390.1 L209.7,390.3 L216.2,392.8 M285.4,559.3 L282.9,556.7 L277.2,554.6 L273.8,554.7 L270.5,551.3 L267.1,550.1 M285.4,559.3 L286.8,562.9 L288.7,567.5 L288.0,570.2 L286.9,574.3 L289.1,579.0 M289.1,579.0 L283.3,577.5 L282.3,577.5 L277.4,576.5 L273.1,577.6 L268.7,574.1 L266.7,572.8 L261.6,573.6 M261.6,573.6 L261.4,571.1 L260.4,565.1 L260.0,563.2 L261.8,558.8 L259.5,553.2 M267.1,550.1 L262.2,552.6 L259.5,553.2 M299.1,543.5 L296.6,547.2 L295.6,549.2 L291.0,552.9 L290.0,556.7 L285.4,559.3 M275.8,530.5 L275.3,534.5 L270.7,538.5 L269.9,541.8 L267.8,545.2 L267.1,550.1 M289.2,579.1 L289.1,579.0 M252.9,593.3 L249.8,586.3 M249.8,586.3 L251.8,583.9 L255.6,578.7 L260.4,577.5 L261.6,573.6 M251.5,550.4 L255.7,551.2 L259.5,553.2 M240.9,582.9 L239.3,579.7 L236.1,576.1 L233.8,572.2 M240.9,582.9 L245.7,585.5 L249.8,586.3 M233.5,689.5 L232.6,692.1 M249.6,705.4 L241.9,704.2 M241.9,704.2 L238.8,701.2 L237.7,696.0 L232.6,692.1 M212.0,696.1 L215.3,698.5 L220.3,701.2 M232.6,692.1 L226.9,695.2 L222.6,697.0 L220.3,701.2 M288.0,299.6 L291.0,305.2 L294.7,307.8 L298.6,310.3 M305.7,294.2 L303.0,300.1 L302.2,302.6 L302.1,309.1 M298.6,310.3 L302.1,309.1 M288.5,319.1 L292.8,318.9 M298.6,310.3 L294.5,316.1 L292.8,318.9 M319.2,300.5 L318.3,305.6 L316.5,308.9 L312.7,313.4 M319.2,300.5 L314.8,297.8 L314.0,294.7 L309.0,293.2 M302.1,309.1 L308.7,312.5 L312.7,313.4 M321.6,300.0 L319.2,300.5 M321.6,300.0 L324.7,301.3 L327.5,304.8 L332.0,308.2 L334.3,311.6 M331.3,316.7 L328.0,315.8 L321.5,316.3 L316.0,318.8 M316.0,318.8 L312.7,313.4 M302.3,352.8 L304.3,355.3 M302.3,352.8 L295.4,353.1 M304.3,355.3 L302.3,361.1 L298.9,362.7 L297.6,370.3 L296.3,373.5 M295.4,353.1 L291.8,355.7 L288.3,359.5 L285.1,365.1 M296.3,373.5 L290.9,371.4 L289.8,367.6 L285.1,365.1 M314.7,359.9 L310.9,358.8 L304.3,355.3 M297.2,376.0 L296.3,373.5 M321.6,346.7 L326.4,344.6 L331.1,340.7 M321.6,346.7 L320.1,351.8 L320.5,354.9 M320.5,354.9 L326.5,355.9 L332.5,357.2 L336.1,356.5 M336.1,356.5 L335.6,350.6 L336.5,348.4 L334.9,343.1 M334.9,343.1 L331.1,340.7 M315.4,359.8 L320.5,354.9 M336.4,356.7 L336.1,356.5 M346.2,339.6 L341.5,340.0 L334.9,343.1 M334.6,325.7 L333.3,330.8 L329.3,334.3 M329.3,334.3 L331.1,340.7 M288.4,389.9 L287.2,385.8 L285.0,383.7 L279.4,380.9 L280.1,377.4 L275.9,373.9 M285.1,365.1 L284.6,365.1 M275.9,373.9 L278.4,372.3 L282.3,369.0 L284.6,365.1 M287.0,347.3 L292.4,351.7 L295.4,353.1 M287.0,347.3 L281.7,350.8 L280.6,349.6 L275.7,353.4 M275.7,353.4 L275.7,354.0 M284.6,365.1 L280.1,362.3 L277.8,356.7 L275.7,354.0 M272.5,349.2 L268.7,347.5 L261.3,347.3 M272.5,349.2 L274.7,341.7 L274.7,338.0 M261.3,347.3 L259.8,342.8 L259.4,336.7 M274.7,338.0 L271.0,334.6 L266.7,332.4 M259.4,336.7 L264.4,333.4 L266.7,332.4 M286.5,338.1 L282.8,335.8 M286.5,338.1 L288.3,342.6 L287.0,347.3 M282.8,335.8 L279.5,337.6 L274.7,338.0 M275.7,353.4 L272.5,349.2 M282.8,335.8 L282.5,330.5 L281.9,325.1 M268.7,322.5 L266.7,326.6 L266.7,332.4 M249.0,333.3 L255.6,335.9 L259.4,336.7 M597.3,360.6 L600.5,358.8 L604.5,359.6 L610.7,358.4 M610.7,358.4 L613.2,360.0 M597.7,374.1 L601.2,376.1 L606.8,376.7 M606.8,376.7 L607.9,370.9 L610.0,369.3 L612.9,363.6 L613.2,360.0 M645.3,413.9 L646.1,420.8 M645.3,413.9 L643.1,410.9 L638.0,409.2 M638.0,409.2 L632.3,411.9 M629.0,427.1 L628.7,426.9 M629.0,427.1 L632.7,427.6 L640.3,423.8 L643.3,425.1 M646.1,420.8 L643.3,425.1 M632.3,411.9 L629.3,415.8 L631.1,423.1 L628.7,426.9 M633.4,441.6 L630.5,438.0 L630.8,430.2 L629.0,427.1 M633.4,441.6 L640.5,442.9 M643.3,425.1 L646.1,431.3 L645.2,436.5 M645.2,436.5 L640.5,442.9 M637.4,461.5 L638.4,456.6 L642.7,450.2 L642.9,447.1 M628.7,444.4 L633.4,441.6 M642.9,447.1 L640.5,442.9 M646.1,420.8 L651.8,423.1 M645.2,436.5 L649.3,436.1 M645.3,413.9 L650.0,411.9 L654.0,411.6 L656.5,407.7 M663.4,413.8 L663.6,415.5 M540.0,420.2 L540.6,419.7 M734.9,317.8 L730.2,320.2 L724.3,321.6 L721.0,325.5 M721.8,308.6 L716.9,311.4 M719.2,325.8 L718.4,324.7 M718.4,324.7 L717.6,318.6 L715.7,314.6 L716.9,311.4 M689.8,319.5 L689.3,324.8 L686.6,329.1 M689.8,319.5 L693.1,319.6 L698.6,320.0 L702.7,321.9 M702.7,321.9 L703.2,322.7 M703.2,322.7 L701.9,326.3 L701.1,332.2 L701.2,336.5 M686.6,329.1 L687.8,333.8 L690.9,337.6 M690.9,337.6 L696.1,336.3 L701.1,336.6 M718.4,324.7 L714.8,323.7 L709.8,324.4 L703.2,322.7 M670.7,336.3 L672.3,333.6 L674.0,328.3 M674.0,328.3 L680.0,327.0 L682.3,327.1 L686.6,329.1 M687.3,343.1 L690.9,337.6 M606.4,344.0 L609.6,341.9 M606.4,344.0 L601.8,343.5 M609.6,341.9 L610.0,337.5 M601.8,343.5 L600.2,338.8 M594.4,347.8 L597.6,346.8 L601.8,343.5 M610.7,358.4 L609.0,352.9 L609.6,349.2 L606.4,344.0 M608.8,314.1 L611.7,316.4 M611.7,316.4 L612.4,323.3 M176.9,259.2 L183.5,261.1 M176.9,259.2 L176.9,259.2 M187.5,244.2 L191.3,244.2 M191.3,244.2 L192.4,247.8 L193.9,254.4 M183.5,261.1 L186.1,258.3 L190.9,257.5 L193.9,254.4 M216.8,259.2 L213.0,262.1 L207.3,263.9 L203.3,263.7 M208.5,245.3 L213.4,246.0 M208.5,245.3 L204.5,250.1 L203.3,250.8 L200.0,256.5 M203.3,263.7 L200.0,256.5 M281.7,181.9 L282.5,177.8 M268.5,172.7 L265.8,177.5 M234.9,169.6 L234.8,164.4 M224.8,157.4 L227.9,157.5 M234.8,164.4 L229.7,160.5 L227.9,157.5 M176.9,259.2 L176.9,259.2 M209.3,212.2 L202.6,213.4 M202.6,213.4 L202.3,213.3 M201.3,225.5 L206.7,230.0 M201.3,225.5 L197.5,227.1 M206.7,230.0 L207.1,234.9 L204.0,240.8 M192.9,233.6 L195.1,240.0 M204.0,240.8 L198.6,241.8 L195.1,240.0 M202.6,213.4 L203.2,216.9 L200.5,220.7 L201.3,225.5 M214.8,227.8 L209.8,228.1 L206.7,230.0 M208.5,245.3 L204.0,240.8 M191.3,244.2 L195.1,240.0 M200.0,256.5 L193.9,254.4 M325.3,226.7 L321.3,230.4 M321.3,230.4 L324.6,237.0 M324.6,237.0 L331.6,235.9 L335.6,236.6 M335.6,236.6 L336.6,234.6 M314.5,228.4 L321.3,230.4 M309.9,244.2 L312.2,244.1 L319.7,243.6 L322.0,244.7 M322.0,244.7 L324.5,239.7 L324.6,237.0 M163.5,484.3 L162.2,488.2 L159.8,491.8 M161.6,534.7 L161.6,534.7 M224.2,597.6 L217.3,596.6 M224.2,597.6 L225.7,601.2 L229.8,604.6 L230.2,610.1 L233.8,614.0 L235.3,616.8 M217.3,596.6 L213.3,599.6 L210.9,605.0 L209.3,607.0 L207.1,610.7 L203.4,612.9 M235.3,616.8 L229.9,622.4 M229.9,622.4 L224.3,622.7 L220.1,619.9 L218.5,618.9 L211.9,620.6 L207.9,618.5 M207.9,618.5 L203.4,612.9 M240.9,582.9 L237.8,585.0 L234.1,590.4 L231.8,592.8 L229.2,594.4 L224.2,597.6 M207.3,575.9 L206.8,578.6 M206.8,578.6 L208.5,582.0 L211.2,584.4 L211.4,589.6 L215.2,592.7 L217.3,596.6 M247.5,614.4 L242.4,613.4 L237.8,614.4 L235.3,616.8 M229.2,640.1 L231.2,634.9 L230.9,632.4 L230.0,628.4 L229.9,622.4 M205.2,639.6 L204.8,633.9 L208.1,630.8 L206.5,625.8 L206.5,623.9 L207.9,618.5 M181.7,623.4 L183.4,620.9 L187.3,619.8 L193.7,617.5 L195.5,613.9 L198.5,611.8 M198.5,611.8 L197.3,609.8 L194.3,604.9 L191.5,601.8 L190.6,595.8 L188.8,593.4 M173.4,601.0 L176.4,597.6 L181.0,597.9 L184.0,595.1 L188.4,593.3 M188.4,593.3 L188.8,593.4 M203.4,612.9 L198.5,611.8 M206.8,578.6 L203.2,579.9 L201.4,583.3 L197.4,587.4 L193.7,590.8 L188.8,593.4 M174.4,575.0 L178.4,579.2 L180.8,580.8 L182.6,587.5 L186.0,589.5 L188.4,593.3 M249.4,717.0 L245.9,717.6 L240.4,721.6 L237.3,721.8 M241.9,704.2 L236.4,708.3 L234.4,712.1 M234.4,712.1 L236.3,716.8 L237.3,721.8 M235.8,726.1 L235.6,725.6 M235.6,725.6 L237.3,721.8 M341.5,304.8 L340.0,299.4 L336.9,295.9 L337.4,291.6 M341.3,289.9 L337.4,291.6 M348.0,247.1 L342.8,247.3 L338.7,244.4 M348.0,247.1 L349.3,246.6 M338.7,244.4 L336.5,240.8 L335.6,236.6 M349.2,245.2 L349.3,246.6 M313.5,339.1 L316.7,336.5 L317.0,331.4 M313.5,339.1 L309.3,339.7 L304.6,342.7 M304.6,342.7 L301.9,338.2 L297.8,333.7 M317.0,331.4 L316.5,326.2 L314.4,323.5 M314.4,323.5 L308.8,326.0 L307.5,325.4 L304.5,327.0 L298.7,328.3 M297.8,333.7 L298.7,328.3 M329.3,334.3 L324.7,335.2 L319.6,334.0 L317.0,331.4 M321.6,346.7 L319.2,341.1 L313.5,339.1 M302.3,352.8 L302.6,349.3 L304.6,342.7 M286.5,338.1 L289.3,338.0 L295.9,333.5 L297.8,333.7 M316.0,318.8 L314.4,323.5 M292.8,318.9 L296.9,325.4 L298.7,328.3 M264.2,365.4 L264.0,368.6 L264.2,373.6 M264.2,365.4 L262.0,363.4 L259.5,356.0 L255.6,354.2 M262.0,375.9 L264.2,373.6 M262.0,375.9 L258.0,377.1 L251.8,372.6 L248.9,374.1 L246.8,373.0 L242.0,373.1 L236.3,371.8 M236.3,371.8 L236.0,370.6 M236.0,370.6 L238.4,367.8 L240.9,362.7 L243.3,357.1 L246.6,354.3 M246.6,354.3 L250.1,354.7 L255.6,354.2 M275.9,373.9 L268.7,374.3 L264.2,373.6 M275.7,354.0 L273.2,355.4 L270.9,358.7 L265.3,361.3 L264.2,365.4 M261.3,347.3 L259.1,351.0 L255.6,354.2 M262.6,393.5 L263.0,389.8 L263.7,385.7 L261.6,380.5 L262.0,375.9 M232.0,384.8 L232.6,381.4 L234.9,374.5 L236.3,371.8 M219.8,357.6 L222.3,358.7 L227.8,364.3 L229.5,364.6 L233.5,366.2 L236.0,370.6 M241.0,340.8 L244.5,343.6 L243.7,348.3 L246.6,354.3 M628.7,426.9 L627.5,426.8 M627.5,426.8 L625.6,428.1 M600.7,432.1 L605.8,429.6 L610.7,430.3 M610.7,430.3 L613.8,433.0 M654.4,395.8 L653.5,389.9 L652.4,384.3 M654.4,395.8 L648.4,397.0 L646.3,397.7 L642.7,397.6 L638.1,398.8 M638.1,398.8 L638.5,392.7 L639.2,388.8 L638.7,384.6 M638.7,384.6 L641.3,382.1 L646.4,381.3 M652.4,384.3 L646.4,381.3 M660.1,380.2 L656.8,381.4 L652.4,384.3 M657.6,399.0 L654.4,395.8 M638.0,409.2 L638.3,403.1 L637.7,399.4 M637.7,399.4 L638.1,398.8 M654.3,365.3 L648.6,367.3 L645.8,370.4 M645.8,370.4 L645.3,377.6 L646.4,381.3 M621.3,409.3 L619.4,415.4 L618.7,419.8 M621.3,409.3 L618.5,405.9 M618.5,405.9 L615.3,409.3 L609.0,407.7 L606.6,410.3 M612.3,421.9 L618.7,419.8 M612.3,421.9 L609.0,420.4 L606.2,414.5 L603.5,413.3 M603.5,413.3 L604.8,411.4 M632.3,411.9 L626.3,411.3 L621.3,409.3 M627.5,426.8 L624.9,424.8 M621.9,422.4 L618.7,419.8 M610.7,430.3 L610.9,427.2 L612.3,421.9 M602.8,413.5 L603.5,413.3 M642.9,447.1 L646.4,448.6 M690.3,306.3 L690.2,300.9 L692.8,299.2 L695.2,294.7 M690.3,306.3 L694.6,307.9 L698.8,309.2 L702.1,308.3 L706.4,308.6 M695.2,294.7 L699.9,294.1 L704.2,292.9 M706.4,308.6 L707.5,308.0 M707.5,308.0 L708.9,304.7 L708.4,298.8 M708.4,298.8 L704.2,292.9 M697.5,276.3 L692.9,277.5 L689.0,282.7 L686.8,284.8 M706.2,285.0 L706.5,290.1 L704.2,292.9 M686.8,284.8 L688.0,289.8 L693.0,290.8 L695.2,294.7 M716.9,311.4 L712.6,310.9 L707.5,308.0 M702.7,321.9 L705.7,319.0 L703.4,312.3 L706.4,308.6 M722.6,294.5 L717.8,294.6 L713.4,299.4 L708.4,298.8 M686.8,284.8 L685.3,284.9 M685.3,284.9 L683.7,279.6 L681.5,277.6 L678.8,273.4 M658.8,339.2 L657.8,337.2 M674.0,328.3 L672.3,324.4 M672.3,324.4 L667.8,322.8 L666.4,322.4 L660.5,320.6 M657.8,337.2 L659.8,331.7 L658.3,328.7 L658.8,325.3 L660.5,320.6 M635.5,303.1 L635.4,303.0 M635.5,303.1 L633.2,307.2 L632.4,312.8 L628.8,316.7 M621.6,312.8 L625.5,315.5 L628.8,316.7 M643.5,302.8 L635.5,303.1 M643.5,302.8 L643.3,299.0 M611.7,316.4 L614.0,315.3 M617.3,327.1 L620.9,327.8 L625.6,329.2 M625.6,329.2 L627.1,326.3 L630.5,321.5 M630.5,321.5 L628.8,316.7 M191.6,272.6 L196.3,270.9 L200.6,267.5 L203.3,263.7 M191.6,272.6 L191.1,277.3 M191.1,277.3 L191.4,278.0 M191.4,278.0 L194.1,278.0 L201.0,279.7 L202.8,283.0 M203.3,263.7 L204.5,267.8 L207.7,273.4 L211.5,277.4 M202.8,283.0 L206.9,281.2 L210.5,280.7 M211.5,277.4 L210.5,280.7 M183.5,261.1 L184.3,264.8 L189.8,267.1 L191.6,272.6 M203.3,263.7 L203.3,263.7 M166.2,276.3 L172.0,274.6 L176.0,278.0 L178.9,275.1 L184.3,276.4 L186.6,276.1 L191.1,277.3 M185.1,292.3 L187.8,285.9 L189.5,283.6 L191.4,278.0 M199.0,301.8 L201.0,298.1 L200.7,293.9 L201.7,286.6 L202.8,283.0 M221.5,269.9 L217.4,273.8 L215.7,276.5 L211.5,277.4 M214.4,285.3 L210.5,280.7 M229.1,124.0 L224.2,128.2 M218.8,123.4 L219.7,128.2 M224.2,128.2 L219.7,128.2 M345.5,262.0 L343.3,261.2 M338.3,273.8 L337.6,273.6 M343.3,261.2 L342.9,265.5 L340.7,269.9 L337.6,273.6 M323.9,248.0 L327.6,249.1 L332.2,249.7 M323.9,248.0 L322.8,252.3 L319.9,258.9 M332.2,249.7 L333.7,253.6 L334.3,257.5 M334.3,257.5 L330.0,258.8 L327.9,262.9 M319.9,258.9 L323.8,261.1 L327.9,262.9 M322.0,244.7 L323.9,248.0 M338.7,244.4 L335.4,246.9 L332.2,249.7 M316.3,260.3 L319.9,258.9 M348.0,247.1 L344.8,252.8 L343.6,254.3 L343.0,260.5 M343.0,260.5 L338.8,259.8 L334.3,257.5 M136.5,490.1 L132.0,488.7 L126.8,488.0 M126.8,488.0 L124.3,494.9 M124.4,483.6 L126.8,488.0 M112.2,497.2 L117.0,497.3 M159.4,515.3 L163.6,518.4 M163.3,500.6 L161.3,500.0 M163.3,500.6 L165.6,502.5 L169.9,508.1 L170.8,512.1 M170.8,512.1 L166.3,515.0 L163.6,518.4 M161.5,534.3 L162.5,531.8 L164.1,524.5 L163.0,524.0 L163.6,518.4 M176.1,493.7 L173.3,494.9 L168.5,498.3 L163.3,500.6 M178.7,511.7 L170.8,512.1 M221.1,707.6 L221.2,707.7 M221.1,707.6 L218.7,709.0 M221.2,707.7 L221.7,714.8 M220.3,701.2 L221.1,707.6 M234.4,712.1 L228.4,712.0 L223.7,708.3 L221.2,707.7 M235.6,725.6 L228.0,725.0 M349.3,246.6 L355.8,247.6 M343.3,261.2 L343.0,260.5 M619.7,342.8 L620.8,338.0 L623.1,338.0 L626.4,332.8 M619.7,342.8 L622.4,348.5 M622.4,348.5 L628.3,348.8 L633.0,352.2 M626.4,332.8 L629.1,335.9 L635.6,337.2 L637.4,339.8 M633.0,352.2 L633.7,345.5 L637.9,341.7 M637.9,341.7 L637.4,339.8 M609.6,341.9 L615.8,342.8 L619.7,342.8 M625.6,329.2 L626.4,332.8 M613.2,360.0 L614.5,359.9 M614.5,359.9 L618.7,355.1 L620.4,353.0 L622.4,348.5 M652.6,347.0 L646.9,343.4 L642.5,342.6 L637.9,341.7 M657.8,337.2 L653.0,335.2 L651.1,333.2 L645.4,330.0 M645.4,330.0 L641.7,332.5 L640.5,337.0 L637.4,339.8 M639.9,357.2 L640.2,363.6 L640.4,367.2 M639.9,357.2 L636.5,354.6 L633.1,352.4 M633.1,352.4 L631.3,354.6 L630.0,359.6 L626.6,364.1 L624.9,366.2 M640.4,367.2 L637.4,367.5 L633.8,369.7 L627.7,371.4 M624.9,366.2 L626.9,370.9 M627.7,371.4 L626.9,370.9 M650.5,354.1 L645.9,354.3 L639.9,357.2 M645.8,370.4 L640.4,367.2 M633.0,352.2 L633.1,352.4 M614.5,359.9 L617.8,361.7 L621.1,364.2 L624.9,366.2 M638.7,384.6 L633.5,382.5 M632.9,382.2 L632.0,381.8 M632.0,381.8 L627.9,377.0 L627.7,371.4 M616.1,383.7 L613.8,378.9 M605.3,383.7 L606.9,376.8 M606.9,376.8 L613.8,378.9 M632.0,381.8 L631.2,382.5 M626.9,370.9 L622.9,375.5 L618.7,374.9 L613.8,378.9 M637.7,399.4 L633.5,399.0 L629.2,398.2 L624.9,396.0 M618.5,405.9 L618.8,402.1 M606.8,376.7 L606.9,376.8 M669.8,281.2 L670.6,287.7 M660.5,286.8 L665.7,286.9 L668.2,289.1 M670.6,287.7 L668.2,289.1 M685.3,284.9 L679.9,289.3 M679.9,289.3 L673.9,288.6 L670.6,287.7 M654.5,301.3 L661.4,301.3 L665.5,299.5 M654.5,301.3 L656.0,296.9 L653.5,291.9 L655.5,288.3 M665.5,299.5 L666.1,294.4 L668.2,289.1 M671.1,304.4 L670.3,309.1 M671.1,304.4 L675.1,302.5 L680.4,300.9 M670.3,309.1 L672.7,314.0 L676.2,316.4 M676.2,316.4 L683.2,314.2 L687.3,313.9 M680.4,300.9 L684.3,305.2 L689.0,307.0 M687.3,313.9 L689.0,307.0 M679.9,289.3 L680.6,293.3 L680.4,300.9 M665.5,299.5 L671.1,304.4 M689.8,319.5 L687.3,313.9 M672.3,324.4 L672.9,320.9 L676.2,316.4 M690.3,306.3 L689.0,307.0 M643.7,321.9 L644.0,322.1 M643.7,321.9 L642.7,319.1 L644.7,311.1 L644.5,309.1 L643.9,303.0 M644.0,322.1 L647.3,321.4 L653.1,319.4 L659.1,318.6 M643.9,303.0 L648.7,304.3 L653.0,302.7 M653.0,302.7 L653.4,305.3 L656.2,313.2 L659.5,315.9 M659.5,315.9 L659.1,318.6 M630.5,321.5 L634.3,321.9 L639.1,322.7 L643.7,321.9 M645.4,330.0 L644.0,322.1 M643.5,302.8 L643.9,303.0 M660.5,320.6 L659.1,318.6 M654.5,301.3 L653.0,302.7 M670.3,309.1 L668.6,312.3 L663.5,312.7 L659.5,315.9 M253.3,165.0 L253.8,164.6 M253.3,165.0 L252.2,164.2 M244.3,159.3 L242.4,158.1 M242.4,158.1 L242.4,155.3 M252.8,166.5 L253.3,165.0 M234.8,164.4 L240.3,160.5 L242.4,158.1 M233.8,149.1 L239.4,148.8 M233.8,149.1 L231.3,145.5 L228.0,142.7 M239.4,148.8 L239.5,148.4 M228.0,142.7 L231.9,135.9 M231.9,135.9 L238.4,134.7 M227.9,157.5 L232.0,153.8 L233.8,149.1 M239.7,149.0 L239.4,148.8 M220.8,143.7 L228.0,142.7 M217.8,130.0 L219.7,128.2 M224.2,128.2 L229.1,131.4 L231.9,135.9 M240.4,124.0 L241.2,130.7 M329.7,270.1 L332.1,272.2 L336.9,273.9 M329.7,270.1 L326.8,271.5 L321.7,274.3 M336.9,273.9 L337.3,278.0 L332.8,281.7 L332.8,288.5 M321.7,274.3 L324.0,280.2 L323.2,284.8 M323.2,284.8 L329.5,288.9 M329.5,288.9 L332.8,288.5 M337.6,273.6 L336.9,273.9 M327.9,262.9 L329.7,270.1 M316.3,272.0 L321.7,274.3 M337.4,291.6 L332.8,288.5 M312.6,286.4 L316.1,287.2 L323.2,284.8 M321.6,300.0 L322.4,296.4 L327.7,293.2 L329.5,288.9 M175.8,132.5 L176.2,135.2 M180.6,123.0 L186.4,124.0 L190.1,123.9 M177.8,136.7 L176.2,135.2 M177.8,136.7 L184.1,136.0 L188.7,136.6 M190.1,123.9 L191.2,127.4 L191.0,133.1 M188.7,136.6 L191.0,133.1 M175.2,135.5 L176.2,135.2 M176.9,147.9 L178.0,141.4 L177.8,136.7 M191.5,144.9 L190.2,141.6 L188.7,136.6 M202.6,133.9 L196.7,133.2 L191.0,133.1 M190.3,120.0 L190.4,123.5 M190.4,123.5 L194.4,124.6 L198.3,120.9 L203.4,121.4 M203.7,120.5 L203.4,121.4 M190.1,123.9 L190.4,123.5 M206.1,128.2 L203.4,121.4 M183.7,119.8 L201.2,119.8 L220.6,123.7 L244,123.7 L259.5,112 L282.9,98.4 M282.9,98.4 L290.7,117.8 L306.2,137.3 L304.3,156.7 L317.9,168.4 M244,123.7 L255.6,145 L271.2,156.7 L282.9,168.4 L290.7,180" fill="none" stroke="#ffffff" stroke-width="1.15" stroke-linejoin="round" stroke-linecap="round" opacity="0.92"/>
<clipPath id="land"><path d="M181.7,57.3 L182.7,61.7 L173.3,63.3 L163.3,68.3 L156.0,75.0 L152.7,80.7 L154.3,86.0 L161.7,88.7 L170.0,89.3 L176.7,94.3 L182.7,97.3 L184.0,102.7 L181.7,107.3 L186.7,111.7 L188.7,116.7 L182.7,120.7 L176.7,127.3 L175.0,136.7 L176.7,146.7 L178.3,158.3 L180.0,166.7 L186.7,171.7 L196.7,176.7 L204.0,181.7 L208.3,186.7 L216.7,187.3 L222.7,190.0 L220.0,196.0 L211.7,197.3 L205.0,201.7 L202.7,209.3 L201.7,218.3 L199.3,225.0 L195.0,230.0 L190.7,237.3 L186.7,246.0 L187.3,253.3 L180.0,255.0 L175.0,261.7 L169.3,272.0 L166.7,272.0 L160.0,278.7 L151.7,287.0 L146.7,297.0 L141.7,305.3 L133.3,310.3 L123.3,312.7 L113.3,315.3 L108.3,308.0 L101.7,308.0 L96.7,313.7 L90.0,322.0 L83.3,330.3 L81.0,338.7 L85.0,344.7 L93.3,348.0 L96.7,355.3 L99.3,365.3 L105.0,369.3 L110.0,372.0 L113.3,380.3 L116.7,390.3 L119.3,396.0 L118.3,403.7 L113.3,407.0 L107.3,403.7 L100.0,404.7 L93.3,407.0 L83.3,407.0 L73.3,408.0 L65.0,406.3 L63.3,412.0 L58.3,413.7 L53.3,416.0 L50.7,420.3 L52.7,424.7 L58.3,422.7 L60.0,428.7 L61.7,434.7 L68.3,440.3 L78.3,444.7 L88.3,445.3 L96.7,443.7 L104.0,438.7 L103.3,445.3 L96.7,450.3 L88.3,453.7 L80.0,456.0 L75.0,457.0 L71.7,453.7 L69.0,457.0 L71.7,462.7 L78.3,470.3 L85.0,478.0 L91.7,485.3 L100.0,491.3 L108.3,496.0 L115.0,498.0 L125.0,494.7 L133.3,492.0 L141.7,487.0 L146.7,480.3 L148.3,472.0 L148.3,463.7 L151.7,457.0 L158.3,458.0 L162.7,458.0 L156.7,462.0 L155.0,468.7 L156.7,475.3 L159.3,485.3 L160.0,493.7 L161.7,502.0 L160.0,508.7 L159.3,517.0 L160.0,525.3 L161.7,535.3 L162.7,544.0 L162.7,544.0 L161.7,552.3 L165.0,560.7 L166.7,570.7 L170.0,580.7 L171.7,594.0 L175.0,607.3 L180.0,619.0 L183.3,627.3 L190.0,639.0 L196.7,649.0 L200.0,660.7 L203.3,674.0 L206.7,684.0 L210.7,694.0 L216.7,704.0 L220.0,712.3 L226.7,722.3 L231.7,732.3 L236.7,744.0 L240.7,755.7 L245.0,767.3 L247.3,777.3 L251.7,787.3 L257.0,794.7 L257.0,794.7 L263.7,802.3 L270.3,807.3 L273.0,806.7 L278.7,800.7 L285.3,790.7 L290.3,784.0 L298.7,779.0 L308.7,777.3 L317.7,780.7 L312.0,776.7 L307.0,773.3 L309.5,770.0 L314.0,760.2 L314.6,756.3 L318.5,753.9 L328.3,753.9 L328.8,744.0 L327.7,732.3 L325.3,722.3 L325.3,714.0 L328.7,712.3 L332.0,705.7 L337.0,697.3 L339.7,687.3 L339.7,677.3 L337.0,672.3 L337.0,660.7 L336.3,650.7 L334.3,640.7 L335.3,632.3 L338.7,624.0 L344.3,618.0 L352.0,619.0 L354.3,621.3 L357.0,615.7 L363.7,609.0 L372.0,606.7 L382.0,604.0 L388.7,597.3 L393.7,590.7 L403.7,579.0 L413.7,570.7 L423.7,560.7 L433.7,552.3 L442.0,544.0 L442.0,544.0 L445.3,538.7 L453.7,532.0 L463.7,523.7 L477.0,515.3 L480.5,514.2 L488.7,509.6 L493.4,503.7 L496.2,497.9 L498.5,496.7 L495.3,494.4 L494.6,490.9 L495.7,486.2 L499.2,480.4 L505.1,475.7 L509.7,473.4 L516.7,469.9 L522.6,466.4 L524.9,463.6 L523.7,472.2 L527.2,475.7 L540.1,476.2 L548.3,475.3 L547.6,466.4 L545.9,457 L544.8,447.7 L544.7,437.0 L540.0,428.7 L540.7,418.7 L539.0,407.0 L532.3,403.7 L524.0,400.3 L522.3,393.7 L529.0,387.0 L537.3,383.7 L545.7,380.3 L540.7,375.3 L534.0,372.0 L527.3,370.3 L525.7,363.7 L529.0,357.0 L534.0,352.0 L544.0,352.0 L550.7,355.3 L557.3,361.3 L563.3,362.0 L564.7,367.0 L565.7,372.0 L566.7,379.3 L580.7,382.0 L600.7,383.7 L624.0,383.7 L634.0,382.0 L627.3,388.7 L624.0,398.7 L614.0,405.3 L604.0,412.0 L599.0,418.7 L599.0,427.0 L602.3,437.0 L607.3,440.3 L612.3,438.7 L614.0,432.0 L619.0,425.3 L624.0,420.3 L625.7,428.7 L627.3,438.7 L630.7,452.0 L632.3,463.7 L639.0,465.3 L642.3,462.0 L645.7,453.7 L647.3,442.0 L650.7,432.0 L652.3,418.7 L650.7,412.0 L660.7,414.7 L669.0,417.0 L674.0,405.3 L680.7,395.3 L682.3,385.3 L679.0,375.3 L687.3,370.3 L694.0,362.0 L692.3,352.0 L694.0,340.3 L700.7,337.0 L710.7,327.0 L722.3,325.3 L732.3,322.0 L741.3,332.0 L738.0,322.0 L744.0,313.7 L747.3,303.7 L740.7,298.7 L730.7,296.0 L721.3,296.0 L727.3,288.7 L722.3,287.0 L725.7,278.7 L719.0,272.0 L717.3,272.0 L714.0,267.7 L710.0,272.0 L704.0,273.7 L695.7,277.0 L687.3,275.3 L680.7,272.0 L674.0,277.0 L665.7,285.3 L654.0,288.7 L647.3,297.0 L634.0,303.7 L624.0,312.0 L614.0,315.3 L607.3,313.7 L610.7,322.0 L617.3,327.0 L620.7,335.3 L614.0,337.0 L600.7,338.7 L587.3,340.3 L574.0,342.0 L565.7,342.7 L557.3,340.3 L550.7,338.7 L544.0,333.7 L542.3,327.0 L544.0,318.7 L543.3,310.3 L539.0,305.3 L532.3,305.3 L526.7,309.3 L525.7,318.7 L524.0,327.0 L522.3,332.0 L525.7,338.7 L522.3,347.0 L514.0,349.3 L514.0,351.3 L505.3,351.3 L497.0,349.3 L487.0,346.0 L477.0,343.7 L465.3,341.3 L455.3,337.0 L443.7,334.7 L438.7,328.7 L430.3,321.3 L422.0,323.7 L410.3,322.7 L397.0,319.3 L385.3,314.7 L372.0,308.0 L360.3,301.3 L347.0,292.7 L335.3,287.0 L338.7,272.0 L338.7,272.0 L342.0,266.7 L347.0,260.0 L352.0,253.3 L356.0,247.3 L348.7,245.0 L342.0,240.0 L337.0,235.0 L332.0,230.0 L325.3,226.7 L318.7,223.3 L313.7,218.3 L310.3,213.3 L307.0,216.7 L303.7,208.3 L300.3,201.7 L297.7,195.0 L293.7,190.0 L292.0,182.7 L297.0,180.0 L302.0,181.7 L306.3,185.0 L310.3,188.3 L315.3,185.0 L321.0,181.7 L319.7,170.0 L317.0,163.3 L311.0,159.3 L307.0,155.0 L310.3,150.7 L307.0,146.7 L306.3,141.7 L313.7,140.0 L320.3,138.3 L322.0,131.7 L328.7,128.3 L332.0,121.7 L337.0,115.0 L338.0,106.7 L337.0,96.7 L332.0,91.7 L328.7,88.3 L322.0,87.3 L315.3,83.3 L310.3,85.0 L300.3,86.7 L292.0,89.3 L283.7,93.3 L277.0,96.7 L270.3,98.3 L268.7,95.0 L262.7,89.3 L255.1,86.7 L252.5,78.9 L247.3,75 L239.5,69.8 L233,65.9 L227.8,60.8 L223.9,56.9 L220,51.7 L214.9,50.9 L204.5,51.7 L195.4,54.3 L185,59.5 L182.4,58.2Z"/></clipPath>
<path d="M331.4,594.1 L333.3,591.5 L335.9,590.2 L341.1,588.9 L345,588.3 L348.9,588.9 L352.8,588.9 L359.3,583.7 L364.5,581.1 L368.4,578.5 L369.7,574.6 L373.6,570.8 L378.1,566.2 L376.1,567.5 L372.3,569.5 L368.4,570.8 L364.5,569.5 L359.3,570.1 L355.4,568.8 L352.8,563 L348.9,561.7 L345,563 L341.1,566.9 L337.2,570.8 L334,574 L334.6,577.9 L330.8,581.1 L329.5,585 L331.4,588.9Z" fill="#e9cfc2" stroke="#fdeae0" stroke-width="0.9" stroke-linejoin="round" clip-path="url(#land)"/>
<path d="M378.1,566.2 L382.6,563 L386.5,561.7 L389.1,557.8 L391.1,553.9 L394.3,557.8 L398.2,557.1 L402.1,554.5 L406,557.8 L407.6,560.8 L404.5,565.9 L411.8,567 L412.8,569 L404.5,574.2 L396.2,580.5 L393,579.8 L389.1,577.9 L385.2,575.3 L380,574 L376.8,571.4Z" fill="#d9a68c" stroke="#fdeae0" stroke-width="0.9" stroke-linejoin="round" clip-path="url(#land)"/>
<path d="M310,609 L313.9,603.2 L319.1,600.6 L325.6,598 L331.4,594.1 L334,592.8 L334,595.4 L335.3,598.6 L339.8,599.9 L345,602.5 L348.9,607.1 L351.5,612.3 L352.2,617.4 L351.6,622 L349.5,618.9 L343.3,618.4 L339.1,622.0 L336.0,627.2 L334.0,633.4 L333.5,639.6 L334.4,647.9 L335.6,656.2 L335.6,664.5 L336.0,671.2 L331.9,671.8 L326.7,666.6 L318.4,666.6 L317.4,662.4 L314.2,652.1 L311.1,643.8 L309.1,636.5 L302.8,635.5 L303.2,627.2 L304.9,618.9 L309.1,612.6Z" fill="#d9a68c" stroke="#fdeae0" stroke-width="0.9" stroke-linejoin="round" clip-path="url(#land)"/>
<path d="M286.2,642.7 L291.4,640.6 L296.6,641.7 L302.8,635.9 L309.1,636.5 L311.1,643.8 L314.2,652.1 L317.4,662.4 L318.4,666.6 L315.3,669.7 L307.0,666.6 L298.7,665.6 L293.5,659.3 L292.5,655.2 L285.2,653.1 L287.3,647.9Z" fill="#c2693e" stroke="#fdeae0" stroke-width="0.9" stroke-linejoin="round" clip-path="url(#land)"/>
<path d="M334,592.8 L335.9,590.2 L341.1,588.9 L345,588.3 L348.9,588.9 L353.4,588.9 L354.1,591.5 L354.7,595.4 L355.4,599.9 L361.2,599.9 L363.2,598.6 L364.5,601.2 L367.1,603.8 L371,605.1 L373.6,605.8 L368.4,608.4 L364.5,610.3 L360.6,613.6 L357.3,617.4 L354.7,620.7 L351.5,622 L352.2,617.4 L351.5,612.3 L348.9,607.1 L345,602.5 L339.8,599.9 L335.3,598.6 L334,595.4Z" fill="#c87f5d" stroke="#fdeae0" stroke-width="0.9" stroke-linejoin="round" clip-path="url(#land)"/>
<path d="M369,579.2 L370.3,581.1 L372.3,587.6 L374.2,594.1 L376.1,601.2 L373.6,605.8 L371,605.1 L367.1,603.8 L364.5,601.2 L363.2,598.6 L361.2,599.9 L355.4,599.9 L354.7,595.4 L354.1,591.5 L353.4,588.9 L359.3,583.7 L364.5,581.1 L368.4,578.5Z" fill="#a33906" stroke="#fdeae0" stroke-width="0.9" stroke-linejoin="round" clip-path="url(#land)"/>
<path d="M378.1,566.2 L376.8,571.4 L380,574 L385.2,575.3 L389.1,577.9 L393,579.8 L391.1,584.4 L388.5,588.9 L387.2,591.5 L387.8,594.7 L385.2,598 L382.6,601.2 L377.4,603.8 L373.6,605.8 L376.1,601.2 L374.2,594.1 L372.3,587.6 L370.3,581.1 L369,579.2 L369.7,574.6 L373.6,570.8Z" fill="#a33906" stroke="#fdeae0" stroke-width="0.9" stroke-linejoin="round" clip-path="url(#land)"/>
<path d="M317.4,608.5 L321.5,611.6 L324.6,617.8 L328.8,612.6 L335.0,613.7 L339.1,616.8 L340.2,620.5 M303.2,635.9 L309.1,636.5 L315.3,637.5 L321.5,639.6 L327.7,641.3 L333.5,639.2" fill="none" stroke="#fdeae0" stroke-width="0.9" stroke-linejoin="round"/>
<path d="M205.1,184.0 L216.7,187.9 L224.5,189.8 L232.3,180.1 L234.2,172.3 L245.9,165.3 L255.6,164.5 L263.4,170.4 L273.2,174.2 L282.9,177.0 L292.6,180.1 L296.5,183.2 M226.5,189.8 L230.4,199.5 L236.2,207.3 L244.0,217.0 L253.7,226.8 L255.6,232.6 L263.4,238.4 L271.2,242.3 L277.0,244.3 M277.0,244.3 L279.0,234.6 L282.9,226.8 L290.7,220.9 L302.3,220.9 L308.2,215.1 L307.0,211.2 M277.0,244.3 L279.0,257.9 L294.6,267.6 L310.1,277.4 L325.7,285.9 L334.6,289.0 M185.6,254.0 L201.2,256.0 L203.1,265.7 L212.8,269.6 L216.7,261.8 L228.4,263.7 L236.2,257.9 L245.9,252.1 L253.7,246.2 L259.5,238.4 L255.6,232.6 M203.1,265.7 L216.7,273.5 L224.5,281.2 L228.4,292.9 L236.2,300.7 L238.1,310.4 L245.9,308.5 L251.8,304.6 L259.5,312.4 L267.3,316.3 L271.2,308.5 L269.3,296.8 L265.4,289.0 L263.4,273.5 L265.4,257.9 L271.2,250.1 L277.0,244.3 M258.8,287.1 L263.4,284.4 L268.1,289.0 L267.3,294.9 L261.5,296.8 L257.6,292.9 L258.8,287.1 M119.3,396.0 L133.3,396.0 L146.7,398.0 L160.0,400.3 L168.3,403.7 L171.7,412.0 L176.7,422.0 L185.0,428.7 L193.3,433.7 L200.0,437.0 M200.0,437.0 L205.0,433.7 L206.7,425.3 L208.3,415.3 L206.7,405.3 L208.3,397.0 L207.3,391.3 L213.3,388.7 L218.3,386.3 L221.7,391.3 L229.3,393.7 L233.3,400.3 L232.3,408.7 L228.3,413.7 L224.0,416.0 L228.3,419.3 L233.3,413.7 L238.3,408.7 L246.7,407.0 L257.0,404.7 M200.0,437.0 L198.3,443.7 L196.7,450.3 L191.7,453.7 L193.3,458.7 L195.0,465.3 L190.0,468.7 L185.0,472.0 L185.0,477.0 L191.7,478.0 L197.3,474.7 M197.3,474.7 L190.0,480.3 L185.0,485.3 L183.3,492.0 L185.0,498.7 L180.0,502.0 L175.0,502.0 L173.3,507.0 L168.3,510.3 L163.3,510.3 L160.0,509.3 M197.3,474.7 L205.0,475.3 L213.3,478.0 L221.7,479.3 L230.0,480.3 L238.3,481.3 L241.7,487.0 L248.3,485.3 L251.7,478.7 L257.0,477.0 M257,404.7 L257.6,397.9 L256.6,389.6 L262.8,387.5 L269.1,383.4 L267,377.2 L258.7,380.3 L250.4,377.2 L248.3,368.9 L252.5,360.6 L260.8,354.3 L271.1,348.1 L281.5,341.9 L289.8,337.7 L302.3,339.8 L308.5,346 L309.5,354.3 L306.4,362.6 L302.3,369.9 L302,373.7 M302.0,373.7 L297.0,376.0 L290.3,387.0 L292.0,398.7 L300.3,405.3 L306.3,400.3 L303.7,388.7 L300.3,378.7 L302.0,373.7 M289.8,337.7 L279.4,336.7 L271.1,338.8 L275.3,331.5 L271.1,325.3 L267.3,316.3 M302.0,373.7 L307.0,378.7 L315.3,380.3 L323.7,382.0 L332.0,378.7 L338.7,378.0 L342.0,383.7 L350.3,383.7 L357.0,387.0 L363.7,383.7 L372.0,385.3 L380.3,390.3 L388.7,395.3 L395.3,397.0 L397.0,405.3 L398.7,412.0 L403.7,415.3 M430.3,322.0 L427.0,330.3 L432.0,337.0 L430.3,343.7 L425.3,347.0 L427.0,353.7 L433.7,358.7 L440.3,367.0 L433.7,370.3 L423.7,373.7 L417.0,378.7 L412.0,387.0 L412.0,397.0 L413.7,400.3 M413.7,400.3 L412.0,405.3 L410.3,412.0 L403.7,415.3 M413.7,400.3 L423.7,398.7 L430.3,398.0 L438.7,400.3 L447.0,402.0 L457.0,400.3 L467.0,397.0 L475.3,395.3 L483.7,398.7 L490.3,400.3 L497.0,397.0 L503.7,388.7 L508.7,383.7 L514.0,380.3 M403.7,415.3 L397.0,417.0 L388.7,418.0 L380.3,418.7 L372.0,417.0 L370.3,423.7 L375.3,427.0 L382.0,430.3 L383.7,435.3 L377.0,438.7 L373.7,445.3 L368.7,452.0 L360.3,455.3 L357.0,462.0 L353.7,468.7 L352.0,477.0 L347.0,482.0 M403.7,415.3 L412.0,412.0 L417.0,418.7 L423.7,425.3 L428.7,432.0 L430.3,438.7 L433.7,443.7 L430.3,448.7 L428.7,453.7 M428.7,453.7 L438.7,453.7 L450.3,453.7 L453.7,462.0 L462.0,462.0 L470.3,463.7 L473.7,453.7 L478.7,452.0 L487.0,457.0 L493.7,460.3 L497.0,468.7 M514.0,407.0 L503.7,412.0 L493.7,418.7 L483.7,423.7 L473.7,427.0 L472.0,433.7 L480.3,438.7 L487.0,445.3 L490.3,452.0 L495.3,458.7 L497.0,468.7 L503.0,471.0 L509.0,473.3 M428.7,453.7 L423.7,462.0 L417.0,468.7 L413.7,477.0 L408.7,483.7 L400.3,488.7 L392.0,493.7 L388.7,502.0 L390.3,512.0 L395.3,518.7 L385.3,517.0 L377.0,515.3 L382.0,523.7 L385.3,535.3 L387.0,544.0 M347.0,482.0 L345.3,492.0 L344.3,502.0 L346.3,510.3 L342.0,520.3 L347.0,527.0 L350.3,533.7 L345.3,537.0 L340.3,544.0 M257.0,477.0 L263.7,472.0 L272.0,472.0 L273.7,478.7 L283.7,475.3 L297.0,474.7 L310.3,473.7 L323.7,472.7 L335.3,474.7 L342.0,476.0 L347.0,482.0 M340.3,544.0 L337.0,538.7 L328.7,533.7 L323.7,527.0 L312.0,528.7 L300.3,523.7 L290.3,520.3 L287.0,528.7 L282.0,535.3 L280.3,544.0 M514,380.3 L518.1,382.6 L522.8,374 L519.7,364.7 L518.9,360 L524.4,352.3 L526.2,350 M518.1,382.6 L519.7,386.5 L521.2,391.2 L518.1,399 L515,405.2 L514,407 M522.3,332.0 L530.7,331.3 L539.0,329.3 L543.3,327.0 M514.0,407.0 L517.3,403.7 M565.7,342.7 L564.0,352.0 L564.0,362.0 M565.7,372.0 L569.0,363.7 L580.7,361.3 L590.7,362.7 L599.0,367.0 L609.0,361.3 L617.3,360.3 L624.0,359.3 L625.7,367.0 L630.7,372.0 L635.7,378.0 L634.0,382.0 M620.7,335.3 L630.7,334.7 L644.0,333.7 L654.0,332.0 L662.3,327.0 L670.7,320.3 L680.7,317.0 L692.3,313.7 L702.3,310.3 L710.7,308.7 L713.3,315.3 L712.3,322.0 L705.7,327.0 L699.0,330.3 L694.0,337.0 M694.0,340.3 L687.3,343.7 L679.0,347.0 L672.3,353.7 L665.7,362.0 L660.7,368.7 L655.7,375.3 L651.3,380.3 M651.3,380.3 L657.3,377.0 L664.0,373.7 L672.3,372.0 L679.0,374.7 M651.3,380.3 L647.3,388.7 L644.7,397.0 L642.3,405.3 L641.3,411.3 L650.7,412.0 M625.7,403.7 L629.0,407.0 L634.0,403.7 L637.3,400.3 L642.3,405.3 M624.0,420.3 L625.7,412.0 L625.7,403.7 L630.7,395.3 L634.0,387.0 L634.0,382.0 M181.7,621.3 L190.0,624.0 L195.0,622.3 L196.7,629.0 L193.3,635.7 L191.7,641.3 M195.0,622.3 L196.7,615.7 L200.0,609.0 L195.0,604.0 L198.3,599.0 L208.3,595.7 L216.7,592.3 L225.0,590.7 L228.3,584.0 L230.0,579.0 L238.3,577.3 L246.7,577.3 L248.3,572.3 L257.0,567.3 M210.7,694.0 L216.7,697.3 L221.7,702.3 L218.3,709.0 L226.7,714.0 L235.0,719.0 L243.3,722.3 M257.0,567.3 L263.7,562.3 L268.7,560.7 L273.7,557.3 L282.0,544.0 M268.7,560.7 L272.0,574.0 L273.7,584.0 L269.7,589.0 L272.0,600.7 L272.0,615.7 M272.0,615.7 L283.7,612.3 L293.7,609.0 L303.7,607.3 L313.7,605.7 L323.7,599.0 L333.7,594.0 L335.9,590.2 L341.1,588.9 L345,588.3 L348.9,588.9 L352.8,588.9 L359.3,583.7 L364.5,581.1 L368.4,578.5 L369.7,574.6 L373.6,570.8 L378.1,566.2 M378.1,566.2 L376.1,567.5 L372.3,569.5 L368.4,570.8 L364.5,569.5 L359.3,570.1 L355.4,568.8 L352.8,563 L350.2,559.1 L346.3,553.9 L341,546 M378.1,566.2 L382.6,563 L386.5,561.7 L389.1,557.8 L391.1,553.9 L394.3,557.8 L398.2,557.1 L401.2,554.5 L405.8,551.7 L408.2,547 L412.4,543.8 L417,540 L421.7,539.1 L425.2,542.4 L429.9,546.1 L433.4,544.7 L438.1,541.9 L442.7,539.3 L444.4,538.2 M387,544 L385.5,542.4 L383.2,549.4 L377.4,556.4 L370.4,562.2 L363.3,566.9 L357.5,569.2 M272.0,615.7 L262.0,619.0 L260.3,630.7 L263.7,639.0 L258.7,641.3 L257.0,652.3 L260.3,659.0 L258.7,665.7 L267.0,668.0 L272.0,660.0 L268.7,655.7 L263.7,658.0 L264.3,664.0 L270.3,670.0 L277.0,672.3 L282.0,667.3 L288.7,670.7 L290.3,677.3 L297.0,680.7 L300.3,690.7 M300.3,690.7 L310.3,685.7 L320.3,682.3 L328.7,677.3 L335.3,675.7 L339.7,677.3 M300.3,690.7 L295.3,693.3 L287.0,695.7 L277.0,697.3 L273.7,707.3 L268.7,712.3 L260.3,715.7 L257.0,717.3 L252.8,720.2 L248.5,721.5 L243.1,723 M243.1,723 L246.4,726.3 L250.7,729.5 L252.8,734.9 L255,740.3 L258.2,744.6 L259.3,750 L262.6,752.2 L264.7,757.6 L265.8,764 L264.7,769.4 L267.9,773.7 L269,778.1 L265.8,783.4 L264.7,788.8 L265.8,795.3 L264.3,800.7 L266.9,805 L272.3,807.2 M325.3,714.0 L323.7,717.3 L326.3,719.0 L327.7,714.7" fill="none" stroke="#7a7a7a" stroke-width="1.3" stroke-linejoin="round" stroke-linecap="round"/>
<path d="M181.7,57.3 L182.7,61.7 L173.3,63.3 L163.3,68.3 L156.0,75.0 L152.7,80.7 L154.3,86.0 L161.7,88.7 L170.0,89.3 L176.7,94.3 L182.7,97.3 L184.0,102.7 L181.7,107.3 L186.7,111.7 L188.7,116.7 L182.7,120.7 L176.7,127.3 L175.0,136.7 L176.7,146.7 L178.3,158.3 L180.0,166.7 L186.7,171.7 L196.7,176.7 L204.0,181.7 L208.3,186.7 L216.7,187.3 L222.7,190.0 L220.0,196.0 L211.7,197.3 L205.0,201.7 L202.7,209.3 L201.7,218.3 L199.3,225.0 L195.0,230.0 L190.7,237.3 L186.7,246.0 L187.3,253.3 L180.0,255.0 L175.0,261.7 L169.3,272.0 L166.7,272.0 L160.0,278.7 L151.7,287.0 L146.7,297.0 L141.7,305.3 L133.3,310.3 L123.3,312.7 L113.3,315.3 L108.3,308.0 L101.7,308.0 L96.7,313.7 L90.0,322.0 L83.3,330.3 L81.0,338.7 L85.0,344.7 L93.3,348.0 L96.7,355.3 L99.3,365.3 L105.0,369.3 L110.0,372.0 L113.3,380.3 L116.7,390.3 L119.3,396.0 L118.3,403.7 L113.3,407.0 L107.3,403.7 L100.0,404.7 L93.3,407.0 L83.3,407.0 L73.3,408.0 L65.0,406.3 L63.3,412.0 L58.3,413.7 L53.3,416.0 L50.7,420.3 L52.7,424.7 L58.3,422.7 L60.0,428.7 L61.7,434.7 L68.3,440.3 L78.3,444.7 L88.3,445.3 L96.7,443.7 L104.0,438.7 L103.3,445.3 L96.7,450.3 L88.3,453.7 L80.0,456.0 L75.0,457.0 L71.7,453.7 L69.0,457.0 L71.7,462.7 L78.3,470.3 L85.0,478.0 L91.7,485.3 L100.0,491.3 L108.3,496.0 L115.0,498.0 L125.0,494.7 L133.3,492.0 L141.7,487.0 L146.7,480.3 L148.3,472.0 L148.3,463.7 L151.7,457.0 L158.3,458.0 L162.7,458.0 L156.7,462.0 L155.0,468.7 L156.7,475.3 L159.3,485.3 L160.0,493.7 L161.7,502.0 L160.0,508.7 L159.3,517.0 L160.0,525.3 L161.7,535.3 L162.7,544.0 L162.7,544.0 L161.7,552.3 L165.0,560.7 L166.7,570.7 L170.0,580.7 L171.7,594.0 L175.0,607.3 L180.0,619.0 L183.3,627.3 L190.0,639.0 L196.7,649.0 L200.0,660.7 L203.3,674.0 L206.7,684.0 L210.7,694.0 L216.7,704.0 L220.0,712.3 L226.7,722.3 L231.7,732.3 L236.7,744.0 L240.7,755.7 L245.0,767.3 L247.3,777.3 L251.7,787.3 L257.0,794.7 L257.0,794.7 L263.7,802.3 L270.3,807.3 L273.0,806.7 L278.7,800.7 L285.3,790.7 L290.3,784.0 L298.7,779.0 L308.7,777.3 L317.7,780.7 L312.0,776.7 L307.0,773.3 L309.5,770.0 L314.0,760.2 L314.6,756.3 L318.5,753.9 L328.3,753.9 L328.8,744.0 L327.7,732.3 L325.3,722.3 L325.3,714.0 L328.7,712.3 L332.0,705.7 L337.0,697.3 L339.7,687.3 L339.7,677.3 L337.0,672.3 L337.0,660.7 L336.3,650.7 L334.3,640.7 L335.3,632.3 L338.7,624.0 L344.3,618.0 L352.0,619.0 L354.3,621.3 L357.0,615.7 L363.7,609.0 L372.0,606.7 L382.0,604.0 L388.7,597.3 L393.7,590.7 L403.7,579.0 L413.7,570.7 L423.7,560.7 L433.7,552.3 L442.0,544.0 L442.0,544.0 L445.3,538.7 L453.7,532.0 L463.7,523.7 L477.0,515.3 L480.5,514.2 L488.7,509.6 L493.4,503.7 L496.2,497.9 L498.5,496.7 L495.3,494.4 L494.6,490.9 L495.7,486.2 L499.2,480.4 L505.1,475.7 L509.7,473.4 L516.7,469.9 L522.6,466.4 L524.9,463.6 L523.7,472.2 L527.2,475.7 L540.1,476.2 L548.3,475.3 L547.6,466.4 L545.9,457 L544.8,447.7 L544.7,437.0 L540.0,428.7 L540.7,418.7 L539.0,407.0 L532.3,403.7 L524.0,400.3 L522.3,393.7 L529.0,387.0 L537.3,383.7 L545.7,380.3 L540.7,375.3 L534.0,372.0 L527.3,370.3 L525.7,363.7 L529.0,357.0 L534.0,352.0 L544.0,352.0 L550.7,355.3 L557.3,361.3 L563.3,362.0 L564.7,367.0 L565.7,372.0 L566.7,379.3 L580.7,382.0 L600.7,383.7 L624.0,383.7 L634.0,382.0 L627.3,388.7 L624.0,398.7 L614.0,405.3 L604.0,412.0 L599.0,418.7 L599.0,427.0 L602.3,437.0 L607.3,440.3 L612.3,438.7 L614.0,432.0 L619.0,425.3 L624.0,420.3 L625.7,428.7 L627.3,438.7 L630.7,452.0 L632.3,463.7 L639.0,465.3 L642.3,462.0 L645.7,453.7 L647.3,442.0 L650.7,432.0 L652.3,418.7 L650.7,412.0 L660.7,414.7 L669.0,417.0 L674.0,405.3 L680.7,395.3 L682.3,385.3 L679.0,375.3 L687.3,370.3 L694.0,362.0 L692.3,352.0 L694.0,340.3 L700.7,337.0 L710.7,327.0 L722.3,325.3 L732.3,322.0 L741.3,332.0 L738.0,322.0 L744.0,313.7 L747.3,303.7 L740.7,298.7 L730.7,296.0 L721.3,296.0 L727.3,288.7 L722.3,287.0 L725.7,278.7 L719.0,272.0 L717.3,272.0 L714.0,267.7 L710.0,272.0 L704.0,273.7 L695.7,277.0 L687.3,275.3 L680.7,272.0 L674.0,277.0 L665.7,285.3 L654.0,288.7 L647.3,297.0 L634.0,303.7 L624.0,312.0 L614.0,315.3 L607.3,313.7 L610.7,322.0 L617.3,327.0 L620.7,335.3 L614.0,337.0 L600.7,338.7 L587.3,340.3 L574.0,342.0 L565.7,342.7 L557.3,340.3 L550.7,338.7 L544.0,333.7 L542.3,327.0 L544.0,318.7 L543.3,310.3 L539.0,305.3 L532.3,305.3 L526.7,309.3 L525.7,318.7 L524.0,327.0 L522.3,332.0 L525.7,338.7 L522.3,347.0 L514.0,349.3 L514.0,351.3 L505.3,351.3 L497.0,349.3 L487.0,346.0 L477.0,343.7 L465.3,341.3 L455.3,337.0 L443.7,334.7 L438.7,328.7 L430.3,321.3 L422.0,323.7 L410.3,322.7 L397.0,319.3 L385.3,314.7 L372.0,308.0 L360.3,301.3 L347.0,292.7 L335.3,287.0 L338.7,272.0 L338.7,272.0 L342.0,266.7 L347.0,260.0 L352.0,253.3 L356.0,247.3 L348.7,245.0 L342.0,240.0 L337.0,235.0 L332.0,230.0 L325.3,226.7 L318.7,223.3 L313.7,218.3 L310.3,213.3 L307.0,216.7 L303.7,208.3 L300.3,201.7 L297.7,195.0 L293.7,190.0 L292.0,182.7 L297.0,180.0 L302.0,181.7 L306.3,185.0 L310.3,188.3 L315.3,185.0 L321.0,181.7 L319.7,170.0 L317.0,163.3 L311.0,159.3 L307.0,155.0 L310.3,150.7 L307.0,146.7 L306.3,141.7 L313.7,140.0 L320.3,138.3 L322.0,131.7 L328.7,128.3 L332.0,121.7 L337.0,115.0 L338.0,106.7 L337.0,96.7 L332.0,91.7 L328.7,88.3 L322.0,87.3 L315.3,83.3 L310.3,85.0 L300.3,86.7 L292.0,89.3 L283.7,93.3 L277.0,96.7 L270.3,98.3 L268.7,95.0 L262.7,89.3 L255.1,86.7 L252.5,78.9 L247.3,75 L239.5,69.8 L233,65.9 L227.8,60.8 L223.9,56.9 L220,51.7 L214.9,50.9 L204.5,51.7 L195.4,54.3 L185,59.5 L182.4,58.2Z" fill="none" stroke="#7a7a7a" stroke-width="1.6" stroke-linejoin="round"/>
<path d="M640.7,672.3 L643.3,677.3 L642.3,687.3 L640.7,694.0 L641.3,704.0 L637.3,710.7 L635.7,720.7 L633.3,728.0 L630.7,725.7 L630.7,717.3 L633.3,707.3 L634.7,697.3 L634.0,690.7 L637.3,680.7 L639.0,674.0Z" fill="#dddddd" stroke="#909090" stroke-width="1.7" stroke-linejoin="round"/>
<path d="M629.0,739.7 L631.7,742.3 L631.3,747.3 L628.0,748.7 L626.0,745.3 L626.7,741.3Z" fill="#dddddd" stroke="#909090" stroke-width="1.7" stroke-linejoin="round"/>
<path d="M642.7,705.7 L644.0,710.7 L642.7,717.3 L641.0,712.3Z" fill="#dddddd" stroke="#909090" stroke-width="1.7" stroke-linejoin="round"/>
<circle cx="656.3" cy="642.7" r="1.5" fill="#8c8c8c"/>
<circle cx="661.7" cy="706.0" r="1.5" fill="#8c8c8c"/>
<circle cx="623.3" cy="723.3" r="1.5" fill="#8c8c8c"/>
<circle cx="636.0" cy="780.7" r="1.5" fill="#8c8c8c"/>
<circle cx="645.0" cy="802.3" r="1.5" fill="#8c8c8c"/>
<circle cx="652.3" cy="807.3" r="1.5" fill="#8c8c8c"/>
<circle cx="650.0" cy="810.0" r="1.5" fill="#8c8c8c"/>
<circle cx="656.3" cy="797.3" r="1.5" fill="#8c8c8c"/>
<circle cx="654.0" cy="805.0" r="1.5" fill="#8c8c8c"/>
<circle cx="180.0" cy="742.0" r="1.5" fill="#8c8c8c"/>
<circle cx="156.0" cy="746.7" r="1.5" fill="#8c8c8c"/>
<circle cx="166.0" cy="802.0" r="1.5" fill="#8c8c8c"/>
<path d="M650.0,805.7 L652.7,802.3 L655.3,801.3 L656.7,807.3 L654.7,811.7 L650.7,811.3Z" fill="#a8a8a8" stroke="#909090" stroke-width="1.2"/>
<path d="M523.7,472.2 L527.2,475.7 L540.1,476.2 L548.3,475.3 L547.6,466.4 L545.9,457 L544.8,447.7 L542.4,454.7 L540.1,460.5 L535.4,466.4 L529.6,468.7 L524.9,469.9Z" fill="#858585" stroke="#7a7a7a" stroke-width="1"/>
<path d="M50.7,421.0 L52.7,416.7 L57.3,414.7 L62.0,414.3 L60.7,418.7 L57.3,422.0 L52.7,424.7Z" fill="#858585" stroke="#7a7a7a" stroke-width="1"/>
</svg>
</body></html>
